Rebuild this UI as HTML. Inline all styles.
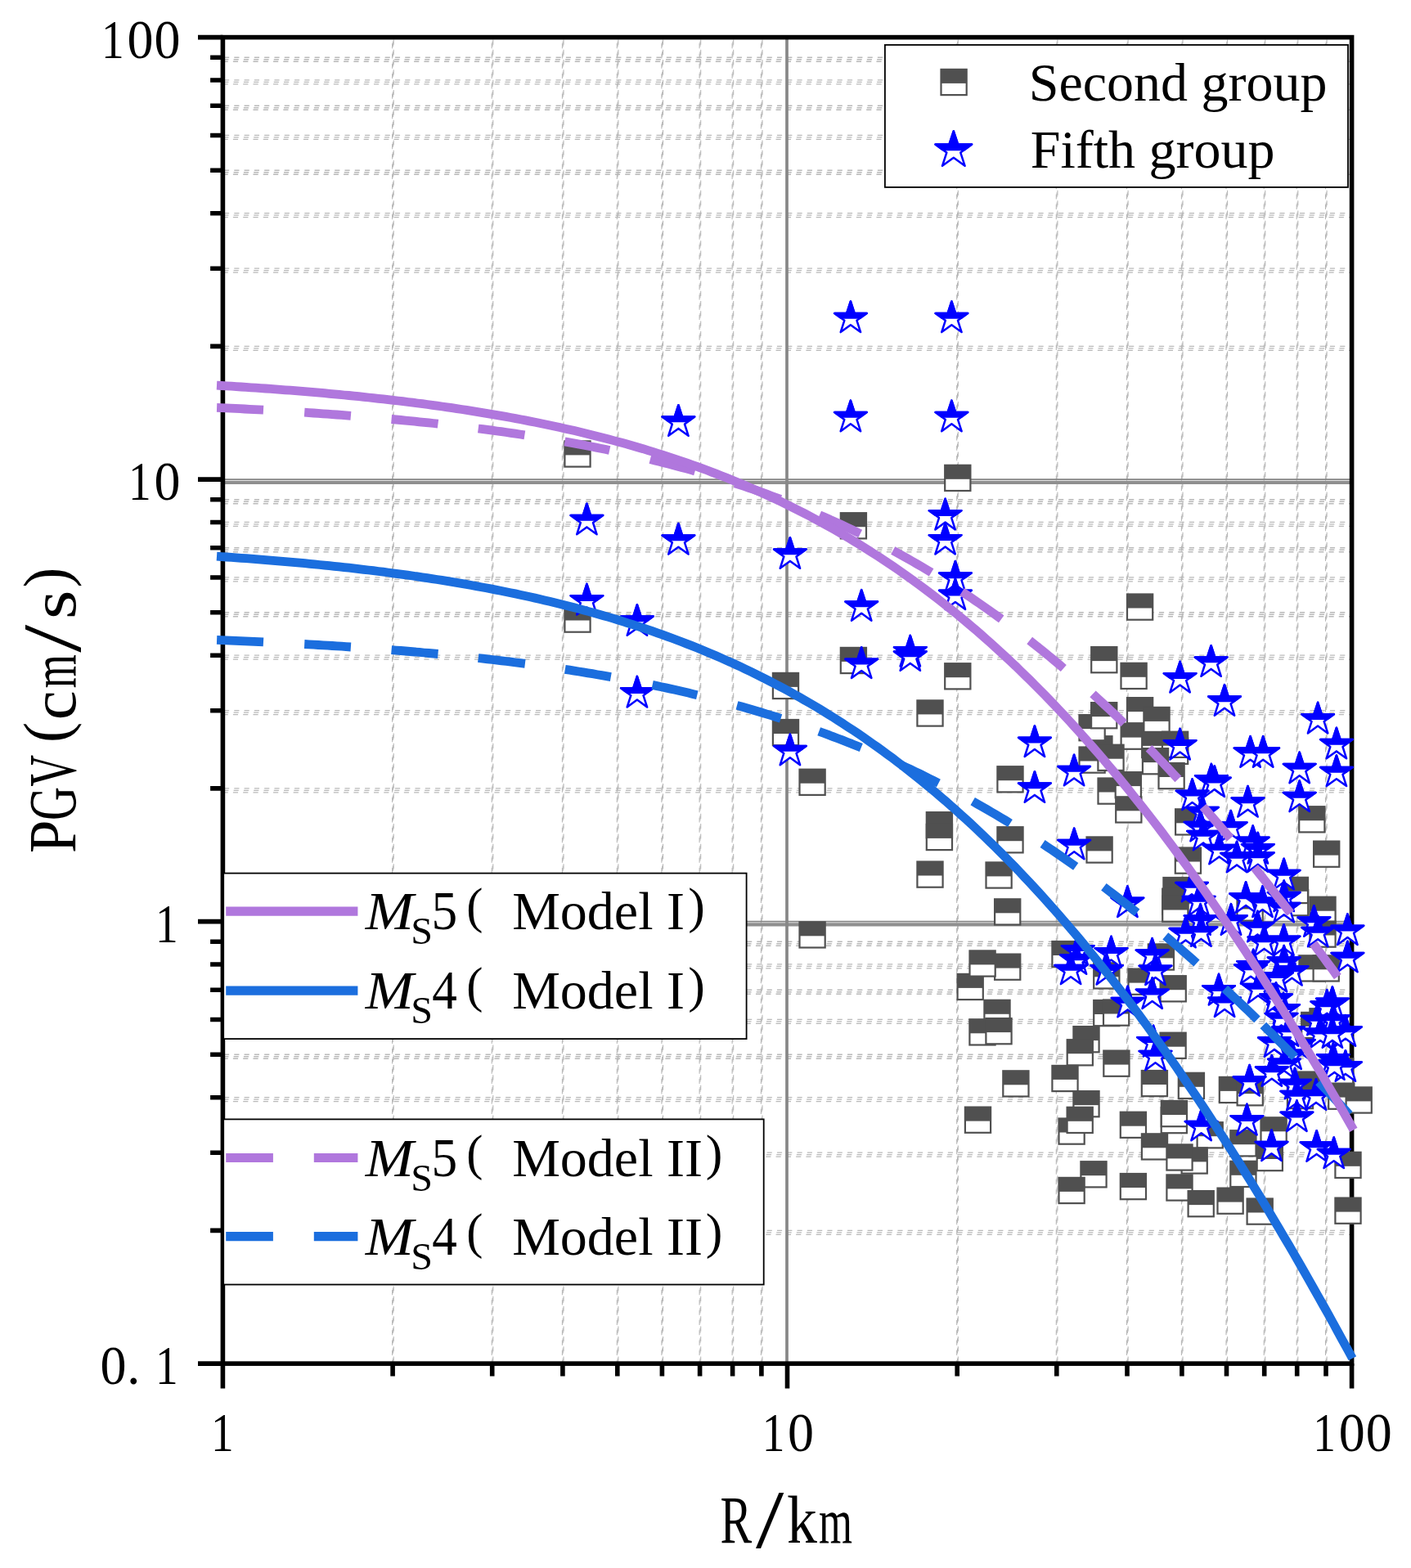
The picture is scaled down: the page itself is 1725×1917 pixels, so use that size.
<!DOCTYPE html>
<html lang="en"><head><meta charset="utf-8"><title>PGV attenuation versus distance</title>
<style>html,body{margin:0;padding:0;background:#fff}body{width:1725px;height:1917px;overflow:hidden}svg{display:block}text{font-family:"Liberation Serif",serif;fill:#000}</style>
</head><body>
<svg width="1725" height="1917" viewBox="0 0 1725 1917">
<rect width="1725" height="1917" fill="#fff"/>
<path d="M272.4 1504.3H1652.6M272.4 1409.1H1652.6M272.4 1341.6H1652.6M272.4 1289.2H1652.6M272.4 1246.4H1652.6M272.4 1210.2H1652.6M272.4 1178.9H1652.6M272.4 1151.2H1652.6M272.4 963.8H1652.6M272.4 868.6H1652.6M272.4 801.1H1652.6M272.4 748.7H1652.6M272.4 705.9H1652.6M272.4 669.7H1652.6M272.4 638.4H1652.6M272.4 610.7H1652.6M272.4 423.3H1652.6M272.4 328.1H1652.6M272.4 260.6H1652.6M272.4 208.2H1652.6M272.4 165.4H1652.6M272.4 129.2H1652.6M272.4 97.9H1652.6M272.4 70.2H1652.6" fill="none" stroke="#b9b9b9" stroke-width="1.35" stroke-dasharray="6.15 6.14" stroke-dashoffset="-1.6"/>
<path d="M272.4 1506.8H1652.6M272.4 1411.6H1652.6M272.4 1344.1H1652.6M272.4 1291.7H1652.6M272.4 1248.9H1652.6M272.4 1212.7H1652.6M272.4 1181.4H1652.6M272.4 1153.7H1652.6M272.4 966.3H1652.6M272.4 871.1H1652.6M272.4 803.6H1652.6M272.4 751.2H1652.6M272.4 708.4H1652.6M272.4 672.2H1652.6M272.4 640.9H1652.6M272.4 613.2H1652.6M272.4 425.8H1652.6M272.4 330.6H1652.6M272.4 263.1H1652.6M272.4 210.7H1652.6M272.4 167.9H1652.6M272.4 131.7H1652.6M272.4 100.4H1652.6M272.4 72.7H1652.6" fill="none" stroke="#b9b9b9" stroke-width="1.35" stroke-dasharray="6.15 6.14" stroke-dashoffset="-0.9"/>
<path d="M272.4 1509.3H1652.6M272.4 1414.1H1652.6M272.4 1346.6H1652.6M272.4 1294.2H1652.6M272.4 1251.4H1652.6M272.4 1215.2H1652.6M272.4 1183.9H1652.6M272.4 1156.2H1652.6M272.4 968.8H1652.6M272.4 873.6H1652.6M272.4 806.1H1652.6M272.4 753.7H1652.6M272.4 710.9H1652.6M272.4 674.7H1652.6M272.4 643.4H1652.6M272.4 615.7H1652.6M272.4 428.3H1652.6M272.4 333.1H1652.6M272.4 265.6H1652.6M272.4 213.2H1652.6M272.4 170.4H1652.6M272.4 134.2H1652.6M272.4 102.9H1652.6M272.4 75.2H1652.6" fill="none" stroke="#b9b9b9" stroke-width="1.35" stroke-dasharray="6.15 6.14" stroke-dashoffset="-0.2"/>
<path d="M481.2 45.6V1667.1M602.8 45.6V1667.1M689.0 45.6V1667.1M755.9 45.6V1667.1M810.5 45.6V1667.1M856.7 45.6V1667.1M896.7 45.6V1667.1M932.0 45.6V1667.1M1171.3 45.6V1667.1M1292.9 45.6V1667.1M1379.1 45.6V1667.1M1446.0 45.6V1667.1M1500.6 45.6V1667.1M1546.8 45.6V1667.1M1586.8 45.6V1667.1M1622.1 45.6V1667.1" fill="none" stroke="#b6b6b6" stroke-width="1.05" stroke-dasharray="6.15 6.14" stroke-dashoffset="-2.9"/>
<path d="M480.4 45.6V1667.1M602.0 45.6V1667.1M688.2 45.6V1667.1M755.1 45.6V1667.1M809.7 45.6V1667.1M855.9 45.6V1667.1M895.9 45.6V1667.1M931.2 45.6V1667.1M1170.5 45.6V1667.1M1292.1 45.6V1667.1M1378.3 45.6V1667.1M1445.2 45.6V1667.1M1499.8 45.6V1667.1M1546.0 45.6V1667.1M1586.0 45.6V1667.1M1621.3 45.6V1667.1" fill="none" stroke="#b6b6b6" stroke-width="1.05" stroke-dasharray="6.15 6.14" stroke-dashoffset="-5.2"/>
<path d="M479.6 45.6V1667.1M601.2 45.6V1667.1M687.4 45.6V1667.1M754.3 45.6V1667.1M808.9 45.6V1667.1M855.1 45.6V1667.1M895.1 45.6V1667.1M930.4 45.6V1667.1M1169.7 45.6V1667.1M1291.3 45.6V1667.1M1377.5 45.6V1667.1M1444.4 45.6V1667.1M1499.0 45.6V1667.1M1545.2 45.6V1667.1M1585.2 45.6V1667.1M1620.5 45.6V1667.1" fill="none" stroke="#b6b6b6" stroke-width="1.05" stroke-dasharray="6.15 6.14" stroke-dashoffset="-7.5"/>
<path d="M272.4 586.1H1652.6" fill="none" stroke="#858585" stroke-width="1.7"/>
<path d="M272.4 589.9H1652.6" fill="none" stroke="#8f8f8f" stroke-width="4.2"/>
<path d="M272.4 1126.6H1652.6" fill="none" stroke="#858585" stroke-width="1.7"/>
<path d="M272.4 1130.4H1652.6" fill="none" stroke="#8f8f8f" stroke-width="4.2"/>
<path d="M962.0 45.6V1667.1" fill="none" stroke="#878787" stroke-width="3.7"/>
<rect x="272.4" y="45.6" width="1380.2" height="1621.5" fill="none" stroke="#000" stroke-width="5.6"/>
<path d="M272.4 1667.1H242.0M272.4 1126.6H242.0M272.4 586.1H242.0M272.4 45.6H242.0M272.4 1667.1V1697.5M962.5 1667.1V1697.5M1652.6 1667.1V1697.5M272.4 1504.4H257.1M272.4 1409.2H257.1M272.4 1341.7H257.1M272.4 1289.3H257.1M272.4 1246.5H257.1M272.4 1210.3H257.1M272.4 1179.0H257.1M272.4 1151.3H257.1M272.4 963.9H257.1M272.4 868.7H257.1M272.4 801.2H257.1M272.4 748.8H257.1M272.4 706.0H257.1M272.4 669.8H257.1M272.4 638.5H257.1M272.4 610.8H257.1M272.4 423.4H257.1M272.4 328.2H257.1M272.4 260.7H257.1M272.4 208.3H257.1M272.4 165.5H257.1M272.4 129.3H257.1M272.4 98.0H257.1M272.4 70.3H257.1M480.1 1667.1V1682.4M601.7 1667.1V1682.4M687.9 1667.1V1682.4M754.8 1667.1V1682.4M809.4 1667.1V1682.4M855.6 1667.1V1682.4M895.6 1667.1V1682.4M930.9 1667.1V1682.4M1170.2 1667.1V1682.4M1291.8 1667.1V1682.4M1378.0 1667.1V1682.4M1444.9 1667.1V1682.4M1499.5 1667.1V1682.4M1545.7 1667.1V1682.4M1585.7 1667.1V1682.4M1621.0 1667.1V1682.4" fill="none" stroke="#000" stroke-width="5.6"/>
<g id="squares">
<rect x="690.4" y="539.4" width="31.2" height="31.2" fill="#fff" stroke="#505050" stroke-width="2.2"/><rect x="690.4" y="539.4" width="31.2" height="17" fill="#505050"/>
<rect x="1155.2" y="568.8" width="31.2" height="31.2" fill="#fff" stroke="#505050" stroke-width="2.2"/><rect x="1155.2" y="568.8" width="31.2" height="17" fill="#505050"/>
<rect x="1027.8" y="627.2" width="31.2" height="31.2" fill="#fff" stroke="#505050" stroke-width="2.2"/><rect x="1027.8" y="627.2" width="31.2" height="17" fill="#505050"/>
<rect x="690.4" y="741.5" width="31.2" height="31.2" fill="#fff" stroke="#505050" stroke-width="2.2"/><rect x="690.4" y="741.5" width="31.2" height="17" fill="#505050"/>
<rect x="1378.0" y="726.5" width="31.2" height="31.2" fill="#fff" stroke="#505050" stroke-width="2.2"/><rect x="1378.0" y="726.5" width="31.2" height="17" fill="#505050"/>
<rect x="1027.8" y="791.9" width="31.2" height="31.2" fill="#fff" stroke="#505050" stroke-width="2.2"/><rect x="1027.8" y="791.9" width="31.2" height="17" fill="#505050"/>
<rect x="1334.2" y="791.1" width="31.2" height="31.2" fill="#fff" stroke="#505050" stroke-width="2.2"/><rect x="1334.2" y="791.1" width="31.2" height="17" fill="#505050"/>
<rect x="1155.2" y="811.2" width="31.2" height="31.2" fill="#fff" stroke="#505050" stroke-width="2.2"/><rect x="1155.2" y="811.2" width="31.2" height="17" fill="#505050"/>
<rect x="1370.5" y="810.8" width="31.2" height="31.2" fill="#fff" stroke="#505050" stroke-width="2.2"/><rect x="1370.5" y="810.8" width="31.2" height="17" fill="#505050"/>
<rect x="944.9" y="822.9" width="31.2" height="31.2" fill="#fff" stroke="#505050" stroke-width="2.2"/><rect x="944.9" y="822.9" width="31.2" height="17" fill="#505050"/>
<rect x="1121.4" y="856.4" width="31.2" height="31.2" fill="#fff" stroke="#505050" stroke-width="2.2"/><rect x="1121.4" y="856.4" width="31.2" height="17" fill="#505050"/>
<rect x="944.9" y="880.0" width="31.2" height="31.2" fill="#fff" stroke="#505050" stroke-width="2.2"/><rect x="944.9" y="880.0" width="31.2" height="17" fill="#505050"/>
<rect x="977.5" y="940.7" width="31.2" height="31.2" fill="#fff" stroke="#505050" stroke-width="2.2"/><rect x="977.5" y="940.7" width="31.2" height="17" fill="#505050"/>
<rect x="1219.4" y="937.2" width="31.2" height="31.2" fill="#fff" stroke="#505050" stroke-width="2.2"/><rect x="1219.4" y="937.2" width="31.2" height="17" fill="#505050"/>
<rect x="1132.8" y="993.1" width="31.2" height="31.2" fill="#fff" stroke="#505050" stroke-width="2.2"/><rect x="1132.8" y="993.1" width="31.2" height="17" fill="#505050"/>
<rect x="1132.8" y="1007.9" width="31.2" height="31.2" fill="#fff" stroke="#505050" stroke-width="2.2"/><rect x="1132.8" y="1007.9" width="31.2" height="17" fill="#505050"/>
<rect x="1219.4" y="1011.2" width="31.2" height="31.2" fill="#fff" stroke="#505050" stroke-width="2.2"/><rect x="1219.4" y="1011.2" width="31.2" height="17" fill="#505050"/>
<rect x="1121.4" y="1053.5" width="31.2" height="31.2" fill="#fff" stroke="#505050" stroke-width="2.2"/><rect x="1121.4" y="1053.5" width="31.2" height="17" fill="#505050"/>
<rect x="1205.5" y="1054.4" width="31.2" height="31.2" fill="#fff" stroke="#505050" stroke-width="2.2"/><rect x="1205.5" y="1054.4" width="31.2" height="17" fill="#505050"/>
<rect x="1216.1" y="1099.3" width="31.2" height="31.2" fill="#fff" stroke="#505050" stroke-width="2.2"/><rect x="1216.1" y="1099.3" width="31.2" height="17" fill="#505050"/>
<rect x="977.5" y="1127.3" width="31.2" height="31.2" fill="#fff" stroke="#505050" stroke-width="2.2"/><rect x="977.5" y="1127.3" width="31.2" height="17" fill="#505050"/>
<rect x="1170.6" y="1190.9" width="31.2" height="31.2" fill="#fff" stroke="#505050" stroke-width="2.2"/><rect x="1170.6" y="1190.9" width="31.2" height="17" fill="#505050"/>
<rect x="1216.1" y="1166.6" width="31.2" height="31.2" fill="#fff" stroke="#505050" stroke-width="2.2"/><rect x="1216.1" y="1166.6" width="31.2" height="17" fill="#505050"/>
<rect x="1185.5" y="1162.4" width="31.2" height="31.2" fill="#fff" stroke="#505050" stroke-width="2.2"/><rect x="1185.5" y="1162.4" width="31.2" height="17" fill="#505050"/>
<rect x="1328.5" y="1023.4" width="31.2" height="31.2" fill="#fff" stroke="#505050" stroke-width="2.2"/><rect x="1328.5" y="1023.4" width="31.2" height="17" fill="#505050"/>
<rect x="1328.3" y="900.2" width="31.2" height="31.2" fill="#fff" stroke="#505050" stroke-width="2.2"/><rect x="1328.3" y="900.2" width="31.2" height="17" fill="#505050"/>
<rect x="1319.5" y="874.1" width="31.2" height="31.2" fill="#fff" stroke="#505050" stroke-width="2.2"/><rect x="1319.5" y="874.1" width="31.2" height="17" fill="#505050"/>
<rect x="1334.1" y="859.1" width="31.2" height="31.2" fill="#fff" stroke="#505050" stroke-width="2.2"/><rect x="1334.1" y="859.1" width="31.2" height="17" fill="#505050"/>
<rect x="1378.0" y="853.1" width="31.2" height="31.2" fill="#fff" stroke="#505050" stroke-width="2.2"/><rect x="1378.0" y="853.1" width="31.2" height="17" fill="#505050"/>
<rect x="1370.6" y="884.6" width="31.2" height="31.2" fill="#fff" stroke="#505050" stroke-width="2.2"/><rect x="1370.6" y="884.6" width="31.2" height="17" fill="#505050"/>
<rect x="1398.4" y="864.9" width="31.2" height="31.2" fill="#fff" stroke="#505050" stroke-width="2.2"/><rect x="1398.4" y="864.9" width="31.2" height="17" fill="#505050"/>
<rect x="1396.2" y="894.9" width="31.2" height="31.2" fill="#fff" stroke="#505050" stroke-width="2.2"/><rect x="1396.2" y="894.9" width="31.2" height="17" fill="#505050"/>
<rect x="1421.0" y="902.7" width="31.2" height="31.2" fill="#fff" stroke="#505050" stroke-width="2.2"/><rect x="1421.0" y="902.7" width="31.2" height="17" fill="#505050"/>
<rect x="1421.0" y="894.7" width="31.2" height="31.2" fill="#fff" stroke="#505050" stroke-width="2.2"/><rect x="1421.0" y="894.7" width="31.2" height="17" fill="#505050"/>
<rect x="1319.5" y="913.5" width="31.2" height="31.2" fill="#fff" stroke="#505050" stroke-width="2.2"/><rect x="1319.5" y="913.5" width="31.2" height="17" fill="#505050"/>
<rect x="1342.4" y="910.7" width="31.2" height="31.2" fill="#fff" stroke="#505050" stroke-width="2.2"/><rect x="1342.4" y="910.7" width="31.2" height="17" fill="#505050"/>
<rect x="1396.9" y="915.1" width="31.2" height="31.2" fill="#fff" stroke="#505050" stroke-width="2.2"/><rect x="1396.9" y="915.1" width="31.2" height="17" fill="#505050"/>
<rect x="1416.5" y="933.0" width="31.2" height="31.2" fill="#fff" stroke="#505050" stroke-width="2.2"/><rect x="1416.5" y="933.0" width="31.2" height="17" fill="#505050"/>
<rect x="1342.5" y="951.5" width="31.2" height="31.2" fill="#fff" stroke="#505050" stroke-width="2.2"/><rect x="1342.5" y="951.5" width="31.2" height="17" fill="#505050"/>
<rect x="1363.7" y="944.1" width="31.2" height="31.2" fill="#fff" stroke="#505050" stroke-width="2.2"/><rect x="1363.7" y="944.1" width="31.2" height="17" fill="#505050"/>
<rect x="1364.2" y="974.3" width="31.2" height="31.2" fill="#fff" stroke="#505050" stroke-width="2.2"/><rect x="1364.2" y="974.3" width="31.2" height="17" fill="#505050"/>
<rect x="1437.1" y="989.3" width="31.2" height="31.2" fill="#fff" stroke="#505050" stroke-width="2.2"/><rect x="1437.1" y="989.3" width="31.2" height="17" fill="#505050"/>
<rect x="1588.2" y="986.2" width="31.2" height="31.2" fill="#fff" stroke="#505050" stroke-width="2.2"/><rect x="1588.2" y="986.2" width="31.2" height="17" fill="#505050"/>
<rect x="1606.1" y="1028.6" width="31.2" height="31.2" fill="#fff" stroke="#505050" stroke-width="2.2"/><rect x="1606.1" y="1028.6" width="31.2" height="17" fill="#505050"/>
<rect x="1436.8" y="1036.5" width="31.2" height="31.2" fill="#fff" stroke="#505050" stroke-width="2.2"/><rect x="1436.8" y="1036.5" width="31.2" height="17" fill="#505050"/>
<rect x="1568.0" y="1088.1" width="31.2" height="31.2" fill="#fff" stroke="#505050" stroke-width="2.2"/><rect x="1568.0" y="1088.1" width="31.2" height="17" fill="#505050"/>
<rect x="1567.8" y="1072.8" width="31.2" height="31.2" fill="#fff" stroke="#505050" stroke-width="2.2"/><rect x="1567.8" y="1072.8" width="31.2" height="17" fill="#505050"/>
<rect x="1601.4" y="1096.7" width="31.2" height="31.2" fill="#fff" stroke="#505050" stroke-width="2.2"/><rect x="1601.4" y="1096.7" width="31.2" height="17" fill="#505050"/>
<rect x="1601.4" y="1126.5" width="31.2" height="31.2" fill="#fff" stroke="#505050" stroke-width="2.2"/><rect x="1601.4" y="1126.5" width="31.2" height="17" fill="#505050"/>
<rect x="1422.4" y="1073.0" width="31.2" height="31.2" fill="#fff" stroke="#505050" stroke-width="2.2"/><rect x="1422.4" y="1073.0" width="31.2" height="17" fill="#505050"/>
<rect x="1421.2" y="1086.6" width="31.2" height="31.2" fill="#fff" stroke="#505050" stroke-width="2.2"/><rect x="1421.2" y="1086.6" width="31.2" height="17" fill="#505050"/>
<rect x="1421.2" y="1095.5" width="31.2" height="31.2" fill="#fff" stroke="#505050" stroke-width="2.2"/><rect x="1421.2" y="1095.5" width="31.2" height="17" fill="#505050"/>
<rect x="1512.5" y="1094.4" width="31.2" height="31.2" fill="#fff" stroke="#505050" stroke-width="2.2"/><rect x="1512.5" y="1094.4" width="31.2" height="17" fill="#505050"/>
<rect x="1588.4" y="1168.3" width="31.2" height="31.2" fill="#fff" stroke="#505050" stroke-width="2.2"/><rect x="1588.4" y="1168.3" width="31.2" height="17" fill="#505050"/>
<rect x="1605.6" y="1168.3" width="31.2" height="31.2" fill="#fff" stroke="#505050" stroke-width="2.2"/><rect x="1605.6" y="1168.3" width="31.2" height="17" fill="#505050"/>
<rect x="1286.4" y="1151.0" width="31.2" height="31.2" fill="#fff" stroke="#505050" stroke-width="2.2"/><rect x="1286.4" y="1151.0" width="31.2" height="17" fill="#505050"/>
<rect x="1403.8" y="1154.4" width="31.2" height="31.2" fill="#fff" stroke="#505050" stroke-width="2.2"/><rect x="1403.8" y="1154.4" width="31.2" height="17" fill="#505050"/>
<rect x="1337.2" y="1177.3" width="31.2" height="31.2" fill="#fff" stroke="#505050" stroke-width="2.2"/><rect x="1337.2" y="1177.3" width="31.2" height="17" fill="#505050"/>
<rect x="1379.5" y="1184.6" width="31.2" height="31.2" fill="#fff" stroke="#505050" stroke-width="2.2"/><rect x="1379.5" y="1184.6" width="31.2" height="17" fill="#505050"/>
<rect x="1418.6" y="1193.2" width="31.2" height="31.2" fill="#fff" stroke="#505050" stroke-width="2.2"/><rect x="1418.6" y="1193.2" width="31.2" height="17" fill="#505050"/>
<rect x="1337.2" y="1223.0" width="31.2" height="31.2" fill="#fff" stroke="#505050" stroke-width="2.2"/><rect x="1337.2" y="1223.0" width="31.2" height="17" fill="#505050"/>
<rect x="1349.0" y="1222.5" width="31.2" height="31.2" fill="#fff" stroke="#505050" stroke-width="2.2"/><rect x="1349.0" y="1222.5" width="31.2" height="17" fill="#505050"/>
<rect x="1203.4" y="1222.8" width="31.2" height="31.2" fill="#fff" stroke="#505050" stroke-width="2.2"/><rect x="1203.4" y="1222.8" width="31.2" height="17" fill="#505050"/>
<rect x="1185.4" y="1246.3" width="31.2" height="31.2" fill="#fff" stroke="#505050" stroke-width="2.2"/><rect x="1185.4" y="1246.3" width="31.2" height="17" fill="#505050"/>
<rect x="1205.4" y="1245.1" width="31.2" height="31.2" fill="#fff" stroke="#505050" stroke-width="2.2"/><rect x="1205.4" y="1245.1" width="31.2" height="17" fill="#505050"/>
<rect x="1591.2" y="1237.9" width="31.2" height="31.2" fill="#fff" stroke="#505050" stroke-width="2.2"/><rect x="1591.2" y="1237.9" width="31.2" height="17" fill="#505050"/>
<rect x="1601.4" y="1233.2" width="31.2" height="31.2" fill="#fff" stroke="#505050" stroke-width="2.2"/><rect x="1601.4" y="1233.2" width="31.2" height="17" fill="#505050"/>
<rect x="1312.4" y="1255.1" width="31.2" height="31.2" fill="#fff" stroke="#505050" stroke-width="2.2"/><rect x="1312.4" y="1255.1" width="31.2" height="17" fill="#505050"/>
<rect x="1304.7" y="1271.2" width="31.2" height="31.2" fill="#fff" stroke="#505050" stroke-width="2.2"/><rect x="1304.7" y="1271.2" width="31.2" height="17" fill="#505050"/>
<rect x="1418.5" y="1262.7" width="31.2" height="31.2" fill="#fff" stroke="#505050" stroke-width="2.2"/><rect x="1418.5" y="1262.7" width="31.2" height="17" fill="#505050"/>
<rect x="1349.3" y="1284.6" width="31.2" height="31.2" fill="#fff" stroke="#505050" stroke-width="2.2"/><rect x="1349.3" y="1284.6" width="31.2" height="17" fill="#505050"/>
<rect x="1623.0" y="1294.3" width="31.2" height="31.2" fill="#fff" stroke="#505050" stroke-width="2.2"/><rect x="1623.0" y="1294.3" width="31.2" height="17" fill="#505050"/>
<rect x="1286.4" y="1302.9" width="31.2" height="31.2" fill="#fff" stroke="#505050" stroke-width="2.2"/><rect x="1286.4" y="1302.9" width="31.2" height="17" fill="#505050"/>
<rect x="1395.8" y="1309.0" width="31.2" height="31.2" fill="#fff" stroke="#505050" stroke-width="2.2"/><rect x="1395.8" y="1309.0" width="31.2" height="17" fill="#505050"/>
<rect x="1226.3" y="1309.3" width="31.2" height="31.2" fill="#fff" stroke="#505050" stroke-width="2.2"/><rect x="1226.3" y="1309.3" width="31.2" height="17" fill="#505050"/>
<rect x="1440.8" y="1311.8" width="31.2" height="31.2" fill="#fff" stroke="#505050" stroke-width="2.2"/><rect x="1440.8" y="1311.8" width="31.2" height="17" fill="#505050"/>
<rect x="1587.2" y="1310.5" width="31.2" height="31.2" fill="#fff" stroke="#505050" stroke-width="2.2"/><rect x="1587.2" y="1310.5" width="31.2" height="17" fill="#505050"/>
<rect x="1573.9" y="1324.0" width="31.2" height="31.2" fill="#fff" stroke="#505050" stroke-width="2.2"/><rect x="1573.9" y="1324.0" width="31.2" height="17" fill="#505050"/>
<rect x="1490.8" y="1316.9" width="31.2" height="31.2" fill="#fff" stroke="#505050" stroke-width="2.2"/><rect x="1490.8" y="1316.9" width="31.2" height="17" fill="#505050"/>
<rect x="1512.6" y="1320.2" width="31.2" height="31.2" fill="#fff" stroke="#505050" stroke-width="2.2"/><rect x="1512.6" y="1320.2" width="31.2" height="17" fill="#505050"/>
<rect x="1624.2" y="1324.6" width="31.2" height="31.2" fill="#fff" stroke="#505050" stroke-width="2.2"/><rect x="1624.2" y="1324.6" width="31.2" height="17" fill="#505050"/>
<rect x="1645.6" y="1329.4" width="31.2" height="31.2" fill="#fff" stroke="#505050" stroke-width="2.2"/><rect x="1645.6" y="1329.4" width="31.2" height="17" fill="#505050"/>
<rect x="1312.4" y="1334.1" width="31.2" height="31.2" fill="#fff" stroke="#505050" stroke-width="2.2"/><rect x="1312.4" y="1334.1" width="31.2" height="17" fill="#505050"/>
<rect x="1294.5" y="1367.5" width="31.2" height="31.2" fill="#fff" stroke="#505050" stroke-width="2.2"/><rect x="1294.5" y="1367.5" width="31.2" height="17" fill="#505050"/>
<rect x="1304.6" y="1353.8" width="31.2" height="31.2" fill="#fff" stroke="#505050" stroke-width="2.2"/><rect x="1304.6" y="1353.8" width="31.2" height="17" fill="#505050"/>
<rect x="1179.9" y="1353.6" width="31.2" height="31.2" fill="#fff" stroke="#505050" stroke-width="2.2"/><rect x="1179.9" y="1353.6" width="31.2" height="17" fill="#505050"/>
<rect x="1369.8" y="1359.7" width="31.2" height="31.2" fill="#fff" stroke="#505050" stroke-width="2.2"/><rect x="1369.8" y="1359.7" width="31.2" height="17" fill="#505050"/>
<rect x="1419.7" y="1354.0" width="31.2" height="31.2" fill="#fff" stroke="#505050" stroke-width="2.2"/><rect x="1419.7" y="1354.0" width="31.2" height="17" fill="#505050"/>
<rect x="1419.8" y="1346.0" width="31.2" height="31.2" fill="#fff" stroke="#505050" stroke-width="2.2"/><rect x="1419.8" y="1346.0" width="31.2" height="17" fill="#505050"/>
<rect x="1541.5" y="1366.3" width="31.2" height="31.2" fill="#fff" stroke="#505050" stroke-width="2.2"/><rect x="1541.5" y="1366.3" width="31.2" height="17" fill="#505050"/>
<rect x="1463.6" y="1372.2" width="31.2" height="31.2" fill="#fff" stroke="#505050" stroke-width="2.2"/><rect x="1463.6" y="1372.2" width="31.2" height="17" fill="#505050"/>
<rect x="1504.3" y="1382.2" width="31.2" height="31.2" fill="#fff" stroke="#505050" stroke-width="2.2"/><rect x="1504.3" y="1382.2" width="31.2" height="17" fill="#505050"/>
<rect x="1395.9" y="1386.3" width="31.2" height="31.2" fill="#fff" stroke="#505050" stroke-width="2.2"/><rect x="1395.9" y="1386.3" width="31.2" height="17" fill="#505050"/>
<rect x="1444.6" y="1403.4" width="31.2" height="31.2" fill="#fff" stroke="#505050" stroke-width="2.2"/><rect x="1444.6" y="1403.4" width="31.2" height="17" fill="#505050"/>
<rect x="1426.4" y="1399.4" width="31.2" height="31.2" fill="#fff" stroke="#505050" stroke-width="2.2"/><rect x="1426.4" y="1399.4" width="31.2" height="17" fill="#505050"/>
<rect x="1536.7" y="1400.0" width="31.2" height="31.2" fill="#fff" stroke="#505050" stroke-width="2.2"/><rect x="1536.7" y="1400.0" width="31.2" height="17" fill="#505050"/>
<rect x="1632.4" y="1408.8" width="31.2" height="31.2" fill="#fff" stroke="#505050" stroke-width="2.2"/><rect x="1632.4" y="1408.8" width="31.2" height="17" fill="#505050"/>
<rect x="1504.3" y="1419.8" width="31.2" height="31.2" fill="#fff" stroke="#505050" stroke-width="2.2"/><rect x="1504.3" y="1419.8" width="31.2" height="17" fill="#505050"/>
<rect x="1321.4" y="1420.2" width="31.2" height="31.2" fill="#fff" stroke="#505050" stroke-width="2.2"/><rect x="1321.4" y="1420.2" width="31.2" height="17" fill="#505050"/>
<rect x="1294.5" y="1439.9" width="31.2" height="31.2" fill="#fff" stroke="#505050" stroke-width="2.2"/><rect x="1294.5" y="1439.9" width="31.2" height="17" fill="#505050"/>
<rect x="1369.8" y="1435.0" width="31.2" height="31.2" fill="#fff" stroke="#505050" stroke-width="2.2"/><rect x="1369.8" y="1435.0" width="31.2" height="17" fill="#505050"/>
<rect x="1426.4" y="1436.4" width="31.2" height="31.2" fill="#fff" stroke="#505050" stroke-width="2.2"/><rect x="1426.4" y="1436.4" width="31.2" height="17" fill="#505050"/>
<rect x="1452.6" y="1456.1" width="31.2" height="31.2" fill="#fff" stroke="#505050" stroke-width="2.2"/><rect x="1452.6" y="1456.1" width="31.2" height="17" fill="#505050"/>
<rect x="1488.5" y="1452.6" width="31.2" height="31.2" fill="#fff" stroke="#505050" stroke-width="2.2"/><rect x="1488.5" y="1452.6" width="31.2" height="17" fill="#505050"/>
<rect x="1524.6" y="1465.5" width="31.2" height="31.2" fill="#fff" stroke="#505050" stroke-width="2.2"/><rect x="1524.6" y="1465.5" width="31.2" height="17" fill="#505050"/>
<rect x="1632.4" y="1464.6" width="31.2" height="31.2" fill="#fff" stroke="#505050" stroke-width="2.2"/><rect x="1632.4" y="1464.6" width="31.2" height="17" fill="#505050"/>
</g>
<g id="stars">
<path d="M1039.9 368.5L1044.6 382.9L1059.7 382.9L1047.5 391.8L1052.1 406.1L1039.9 397.2L1027.7 406.1L1032.3 391.8L1020.1 382.9L1035.2 382.9Z" fill="#fff" stroke="#00f" stroke-width="2.5" stroke-linejoin="round"/><path d="M1039.9 368.5L1044.6 382.9L1059.7 382.9L1052.1 388.4L1027.7 388.4L1020.1 382.9L1035.2 382.9Z" fill="#00f" stroke="#00f" stroke-width="2.5" stroke-linejoin="round"/>
<path d="M1163.4 368.5L1168.1 382.9L1183.2 382.9L1171.0 391.8L1175.6 406.1L1163.4 397.2L1151.2 406.1L1155.8 391.8L1143.6 382.9L1158.7 382.9Z" fill="#fff" stroke="#00f" stroke-width="2.5" stroke-linejoin="round"/><path d="M1163.4 368.5L1168.1 382.9L1183.2 382.9L1175.6 388.4L1151.2 388.4L1143.6 382.9L1158.7 382.9Z" fill="#00f" stroke="#00f" stroke-width="2.5" stroke-linejoin="round"/>
<path d="M1039.9 489.6L1044.6 504.0L1059.7 504.0L1047.5 512.9L1052.1 527.2L1039.9 518.3L1027.7 527.2L1032.3 512.9L1020.1 504.0L1035.2 504.0Z" fill="#fff" stroke="#00f" stroke-width="2.5" stroke-linejoin="round"/><path d="M1039.9 489.6L1044.6 504.0L1059.7 504.0L1052.1 509.5L1027.7 509.5L1020.1 504.0L1035.2 504.0Z" fill="#00f" stroke="#00f" stroke-width="2.5" stroke-linejoin="round"/>
<path d="M1163.4 489.6L1168.1 504.0L1183.2 504.0L1171.0 512.9L1175.6 527.2L1163.4 518.3L1151.2 527.2L1155.8 512.9L1143.6 504.0L1158.7 504.0Z" fill="#fff" stroke="#00f" stroke-width="2.5" stroke-linejoin="round"/><path d="M1163.4 489.6L1168.1 504.0L1183.2 504.0L1175.6 509.5L1151.2 509.5L1143.6 504.0L1158.7 504.0Z" fill="#00f" stroke="#00f" stroke-width="2.5" stroke-linejoin="round"/>
<path d="M829.4 495.2L834.1 509.6L849.2 509.6L837.0 518.5L841.6 532.8L829.4 523.9L817.2 532.8L821.8 518.5L809.6 509.6L824.7 509.6Z" fill="#fff" stroke="#00f" stroke-width="2.5" stroke-linejoin="round"/><path d="M829.4 495.2L834.1 509.6L849.2 509.6L841.6 515.1L817.2 515.1L809.6 509.6L824.7 509.6Z" fill="#00f" stroke="#00f" stroke-width="2.5" stroke-linejoin="round"/>
<path d="M717.4 615.7L722.1 630.1L737.2 630.1L725.0 639.0L729.6 653.3L717.4 644.4L705.2 653.3L709.8 639.0L697.6 630.1L712.7 630.1Z" fill="#fff" stroke="#00f" stroke-width="2.5" stroke-linejoin="round"/><path d="M717.4 615.7L722.1 630.1L737.2 630.1L729.6 635.6L705.2 635.6L697.6 630.1L712.7 630.1Z" fill="#00f" stroke="#00f" stroke-width="2.5" stroke-linejoin="round"/>
<path d="M829.4 640.0L834.1 654.4L849.2 654.4L837.0 663.3L841.6 677.6L829.4 668.7L817.2 677.6L821.8 663.3L809.6 654.4L824.7 654.4Z" fill="#fff" stroke="#00f" stroke-width="2.5" stroke-linejoin="round"/><path d="M829.4 640.0L834.1 654.4L849.2 654.4L841.6 659.9L817.2 659.9L809.6 654.4L824.7 654.4Z" fill="#00f" stroke="#00f" stroke-width="2.5" stroke-linejoin="round"/>
<path d="M965.9 657.2L970.6 671.6L985.7 671.6L973.5 680.5L978.1 694.8L965.9 685.9L953.7 694.8L958.3 680.5L946.1 671.6L961.2 671.6Z" fill="#fff" stroke="#00f" stroke-width="2.5" stroke-linejoin="round"/><path d="M965.9 657.2L970.6 671.6L985.7 671.6L978.1 677.1L953.7 677.1L946.1 671.6L961.2 671.6Z" fill="#00f" stroke="#00f" stroke-width="2.5" stroke-linejoin="round"/>
<path d="M1155.6 609.8L1160.3 624.2L1175.4 624.2L1163.2 633.1L1167.8 647.4L1155.6 638.5L1143.4 647.4L1148.0 633.1L1135.8 624.2L1150.9 624.2Z" fill="#fff" stroke="#00f" stroke-width="2.5" stroke-linejoin="round"/><path d="M1155.6 609.8L1160.3 624.2L1175.4 624.2L1167.8 629.7L1143.4 629.7L1135.8 624.2L1150.9 624.2Z" fill="#00f" stroke="#00f" stroke-width="2.5" stroke-linejoin="round"/>
<path d="M1155.6 639.8L1160.3 654.2L1175.4 654.2L1163.2 663.1L1167.8 677.4L1155.6 668.5L1143.4 677.4L1148.0 663.1L1135.8 654.2L1150.9 654.2Z" fill="#fff" stroke="#00f" stroke-width="2.5" stroke-linejoin="round"/><path d="M1155.6 639.8L1160.3 654.2L1175.4 654.2L1167.8 659.7L1143.4 659.7L1135.8 654.2L1150.9 654.2Z" fill="#00f" stroke="#00f" stroke-width="2.5" stroke-linejoin="round"/>
<path d="M1167.9 686.0L1172.6 700.4L1187.7 700.4L1175.5 709.3L1180.1 723.6L1167.9 714.7L1155.7 723.6L1160.3 709.3L1148.1 700.4L1163.2 700.4Z" fill="#fff" stroke="#00f" stroke-width="2.5" stroke-linejoin="round"/><path d="M1167.9 686.0L1172.6 700.4L1187.7 700.4L1180.1 705.9L1155.7 705.9L1148.1 700.4L1163.2 700.4Z" fill="#00f" stroke="#00f" stroke-width="2.5" stroke-linejoin="round"/>
<path d="M1167.9 707.4L1172.6 721.8L1187.7 721.8L1175.5 730.7L1180.1 745.0L1167.9 736.1L1155.7 745.0L1160.3 730.7L1148.1 721.8L1163.2 721.8Z" fill="#fff" stroke="#00f" stroke-width="2.5" stroke-linejoin="round"/><path d="M1167.9 707.4L1172.6 721.8L1187.7 721.8L1180.1 727.3L1155.7 727.3L1148.1 721.8L1163.2 721.8Z" fill="#00f" stroke="#00f" stroke-width="2.5" stroke-linejoin="round"/>
<path d="M717.4 713.9L722.1 728.3L737.2 728.3L725.0 737.2L729.6 751.5L717.4 742.6L705.2 751.5L709.8 737.2L697.6 728.3L712.7 728.3Z" fill="#fff" stroke="#00f" stroke-width="2.5" stroke-linejoin="round"/><path d="M717.4 713.9L722.1 728.3L737.2 728.3L729.6 733.8L705.2 733.8L697.6 728.3L712.7 728.3Z" fill="#00f" stroke="#00f" stroke-width="2.5" stroke-linejoin="round"/>
<path d="M778.9 739.2L783.6 753.6L798.7 753.6L786.5 762.5L791.1 776.8L778.9 767.9L766.7 776.8L771.3 762.5L759.1 753.6L774.2 753.6Z" fill="#fff" stroke="#00f" stroke-width="2.5" stroke-linejoin="round"/><path d="M778.9 739.2L783.6 753.6L798.7 753.6L791.1 759.1L766.7 759.1L759.1 753.6L774.2 753.6Z" fill="#00f" stroke="#00f" stroke-width="2.5" stroke-linejoin="round"/>
<path d="M1053.2 721.1L1057.9 735.5L1073.0 735.5L1060.8 744.4L1065.4 758.7L1053.2 749.8L1041.0 758.7L1045.6 744.4L1033.4 735.5L1048.5 735.5Z" fill="#fff" stroke="#00f" stroke-width="2.5" stroke-linejoin="round"/><path d="M1053.2 721.1L1057.9 735.5L1073.0 735.5L1065.4 741.0L1041.0 741.0L1033.4 735.5L1048.5 735.5Z" fill="#00f" stroke="#00f" stroke-width="2.5" stroke-linejoin="round"/>
<path d="M778.9 826.9L783.6 841.3L798.7 841.3L786.5 850.2L791.1 864.5L778.9 855.6L766.7 864.5L771.3 850.2L759.1 841.3L774.2 841.3Z" fill="#fff" stroke="#00f" stroke-width="2.5" stroke-linejoin="round"/><path d="M778.9 826.9L783.6 841.3L798.7 841.3L791.1 846.8L766.7 846.8L759.1 841.3L774.2 841.3Z" fill="#00f" stroke="#00f" stroke-width="2.5" stroke-linejoin="round"/>
<path d="M1053.2 791.3L1057.9 805.7L1073.0 805.7L1060.8 814.6L1065.4 828.9L1053.2 820.0L1041.0 828.9L1045.6 814.6L1033.4 805.7L1048.5 805.7Z" fill="#fff" stroke="#00f" stroke-width="2.5" stroke-linejoin="round"/><path d="M1053.2 791.3L1057.9 805.7L1073.0 805.7L1065.4 811.2L1041.0 811.2L1033.4 805.7L1048.5 805.7Z" fill="#00f" stroke="#00f" stroke-width="2.5" stroke-linejoin="round"/>
<path d="M1112.8 776.9L1117.5 791.3L1132.6 791.3L1120.4 800.2L1125.0 814.5L1112.8 805.6L1100.6 814.5L1105.2 800.2L1093.0 791.3L1108.1 791.3Z" fill="#fff" stroke="#00f" stroke-width="2.5" stroke-linejoin="round"/><path d="M1112.8 776.9L1117.5 791.3L1132.6 791.3L1125.0 796.8L1100.6 796.8L1093.0 791.3L1108.1 791.3Z" fill="#00f" stroke="#00f" stroke-width="2.5" stroke-linejoin="round"/>
<path d="M1112.8 782.2L1117.5 796.6L1132.6 796.6L1120.4 805.5L1125.0 819.8L1112.8 810.9L1100.6 819.8L1105.2 805.5L1093.0 796.6L1108.1 796.6Z" fill="#fff" stroke="#00f" stroke-width="2.5" stroke-linejoin="round"/><path d="M1112.8 782.2L1117.5 796.6L1132.6 796.6L1125.0 802.1L1100.6 802.1L1093.0 796.6L1108.1 796.6Z" fill="#00f" stroke="#00f" stroke-width="2.5" stroke-linejoin="round"/>
<path d="M965.9 897.6L970.6 912.0L985.7 912.0L973.5 920.9L978.1 935.2L965.9 926.3L953.7 935.2L958.3 920.9L946.1 912.0L961.2 912.0Z" fill="#fff" stroke="#00f" stroke-width="2.5" stroke-linejoin="round"/><path d="M965.9 897.6L970.6 912.0L985.7 912.0L978.1 917.5L953.7 917.5L946.1 912.0L961.2 912.0Z" fill="#00f" stroke="#00f" stroke-width="2.5" stroke-linejoin="round"/>
<path d="M1264.9 887.4L1269.6 901.8L1284.7 901.8L1272.5 910.7L1277.1 925.0L1264.9 916.1L1252.7 925.0L1257.3 910.7L1245.1 901.8L1260.2 901.8Z" fill="#fff" stroke="#00f" stroke-width="2.5" stroke-linejoin="round"/><path d="M1264.9 887.4L1269.6 901.8L1284.7 901.8L1277.1 907.3L1252.7 907.3L1245.1 901.8L1260.2 901.8Z" fill="#00f" stroke="#00f" stroke-width="2.5" stroke-linejoin="round"/>
<path d="M1264.9 943.2L1269.6 957.6L1284.7 957.6L1272.5 966.5L1277.1 980.8L1264.9 971.9L1252.7 980.8L1257.3 966.5L1245.1 957.6L1260.2 957.6Z" fill="#fff" stroke="#00f" stroke-width="2.5" stroke-linejoin="round"/><path d="M1264.9 943.2L1269.6 957.6L1284.7 957.6L1277.1 963.1L1252.7 963.1L1245.1 957.6L1260.2 957.6Z" fill="#00f" stroke="#00f" stroke-width="2.5" stroke-linejoin="round"/>
<path d="M1313.1 922.7L1317.8 937.1L1332.9 937.1L1320.7 946.0L1325.3 960.3L1313.1 951.4L1300.9 960.3L1305.5 946.0L1293.3 937.1L1308.4 937.1Z" fill="#fff" stroke="#00f" stroke-width="2.5" stroke-linejoin="round"/><path d="M1313.1 922.7L1317.8 937.1L1332.9 937.1L1325.3 942.6L1300.9 942.6L1293.3 937.1L1308.4 937.1Z" fill="#00f" stroke="#00f" stroke-width="2.5" stroke-linejoin="round"/>
<path d="M1313.2 1012.6L1317.9 1027.0L1333.0 1027.0L1320.8 1035.9L1325.4 1050.2L1313.2 1041.3L1301.0 1050.2L1305.6 1035.9L1293.4 1027.0L1308.5 1027.0Z" fill="#fff" stroke="#00f" stroke-width="2.5" stroke-linejoin="round"/><path d="M1313.2 1012.6L1317.9 1027.0L1333.0 1027.0L1325.4 1032.5L1301.0 1032.5L1293.4 1027.0L1308.5 1027.0Z" fill="#00f" stroke="#00f" stroke-width="2.5" stroke-linejoin="round"/>
<path d="M1442.6 808.8L1447.3 823.2L1462.4 823.2L1450.2 832.1L1454.8 846.4L1442.6 837.5L1430.4 846.4L1435.0 832.1L1422.8 823.2L1437.9 823.2Z" fill="#fff" stroke="#00f" stroke-width="2.5" stroke-linejoin="round"/><path d="M1442.6 808.8L1447.3 823.2L1462.4 823.2L1454.8 828.7L1430.4 828.7L1422.8 823.2L1437.9 823.2Z" fill="#00f" stroke="#00f" stroke-width="2.5" stroke-linejoin="round"/>
<path d="M1480.6 789.2L1485.3 803.6L1500.4 803.6L1488.2 812.5L1492.8 826.8L1480.6 817.9L1468.4 826.8L1473.0 812.5L1460.8 803.6L1475.9 803.6Z" fill="#fff" stroke="#00f" stroke-width="2.5" stroke-linejoin="round"/><path d="M1480.6 789.2L1485.3 803.6L1500.4 803.6L1492.8 809.1L1468.4 809.1L1460.8 803.6L1475.9 803.6Z" fill="#00f" stroke="#00f" stroke-width="2.5" stroke-linejoin="round"/>
<path d="M1497.0 837.1L1501.7 851.5L1516.8 851.5L1504.6 860.4L1509.2 874.7L1497.0 865.8L1484.8 874.7L1489.4 860.4L1477.2 851.5L1492.3 851.5Z" fill="#fff" stroke="#00f" stroke-width="2.5" stroke-linejoin="round"/><path d="M1497.0 837.1L1501.7 851.5L1516.8 851.5L1509.2 857.0L1484.8 857.0L1477.2 851.5L1492.3 851.5Z" fill="#00f" stroke="#00f" stroke-width="2.5" stroke-linejoin="round"/>
<path d="M1442.6 890.9L1447.3 905.3L1462.4 905.3L1450.2 914.2L1454.8 928.5L1442.6 919.6L1430.4 928.5L1435.0 914.2L1422.8 905.3L1437.9 905.3Z" fill="#fff" stroke="#00f" stroke-width="2.5" stroke-linejoin="round"/><path d="M1442.6 890.9L1447.3 905.3L1462.4 905.3L1454.8 910.8L1430.4 910.8L1422.8 905.3L1437.9 905.3Z" fill="#00f" stroke="#00f" stroke-width="2.5" stroke-linejoin="round"/>
<path d="M1611.1 858.8L1615.8 873.2L1630.9 873.2L1618.7 882.1L1623.3 896.4L1611.1 887.5L1598.9 896.4L1603.5 882.1L1591.3 873.2L1606.4 873.2Z" fill="#fff" stroke="#00f" stroke-width="2.5" stroke-linejoin="round"/><path d="M1611.1 858.8L1615.8 873.2L1630.9 873.2L1623.3 878.7L1598.9 878.7L1591.3 873.2L1606.4 873.2Z" fill="#00f" stroke="#00f" stroke-width="2.5" stroke-linejoin="round"/>
<path d="M1633.9 889.7L1638.6 904.1L1653.7 904.1L1641.5 913.0L1646.1 927.3L1633.9 918.4L1621.7 927.3L1626.3 913.0L1614.1 904.1L1629.2 904.1Z" fill="#fff" stroke="#00f" stroke-width="2.5" stroke-linejoin="round"/><path d="M1633.9 889.7L1638.6 904.1L1653.7 904.1L1646.1 909.6L1621.7 909.6L1614.1 904.1L1629.2 904.1Z" fill="#00f" stroke="#00f" stroke-width="2.5" stroke-linejoin="round"/>
<path d="M1633.9 923.5L1638.6 937.9L1653.7 937.9L1641.5 946.8L1646.1 961.1L1633.9 952.2L1621.7 961.1L1626.3 946.8L1614.1 937.9L1629.2 937.9Z" fill="#fff" stroke="#00f" stroke-width="2.5" stroke-linejoin="round"/><path d="M1633.9 923.5L1638.6 937.9L1653.7 937.9L1646.1 943.4L1621.7 943.4L1614.1 937.9L1629.2 937.9Z" fill="#00f" stroke="#00f" stroke-width="2.5" stroke-linejoin="round"/>
<path d="M1528.6 900.1L1533.3 914.5L1548.4 914.5L1536.2 923.4L1540.8 937.7L1528.6 928.8L1516.4 937.7L1521.0 923.4L1508.8 914.5L1523.9 914.5Z" fill="#fff" stroke="#00f" stroke-width="2.5" stroke-linejoin="round"/><path d="M1528.6 900.1L1533.3 914.5L1548.4 914.5L1540.8 920.0L1516.4 920.0L1508.8 914.5L1523.9 914.5Z" fill="#00f" stroke="#00f" stroke-width="2.5" stroke-linejoin="round"/>
<path d="M1544.2 900.1L1548.9 914.5L1564.0 914.5L1551.8 923.4L1556.4 937.7L1544.2 928.8L1532.0 937.7L1536.6 923.4L1524.4 914.5L1539.5 914.5Z" fill="#fff" stroke="#00f" stroke-width="2.5" stroke-linejoin="round"/><path d="M1544.2 900.1L1548.9 914.5L1564.0 914.5L1556.4 920.0L1532.0 920.0L1524.4 914.5L1539.5 914.5Z" fill="#00f" stroke="#00f" stroke-width="2.5" stroke-linejoin="round"/>
<path d="M1588.7 919.6L1593.4 934.0L1608.5 934.0L1596.3 942.9L1600.9 957.2L1588.7 948.3L1576.5 957.2L1581.1 942.9L1568.9 934.0L1584.0 934.0Z" fill="#fff" stroke="#00f" stroke-width="2.5" stroke-linejoin="round"/><path d="M1588.7 919.6L1593.4 934.0L1608.5 934.0L1600.9 939.5L1576.5 939.5L1568.9 934.0L1584.0 934.0Z" fill="#00f" stroke="#00f" stroke-width="2.5" stroke-linejoin="round"/>
<path d="M1588.7 954.5L1593.4 968.9L1608.5 968.9L1596.3 977.8L1600.9 992.1L1588.7 983.2L1576.5 992.1L1581.1 977.8L1568.9 968.9L1584.0 968.9Z" fill="#fff" stroke="#00f" stroke-width="2.5" stroke-linejoin="round"/><path d="M1588.7 954.5L1593.4 968.9L1608.5 968.9L1600.9 974.4L1576.5 974.4L1568.9 968.9L1584.0 968.9Z" fill="#00f" stroke="#00f" stroke-width="2.5" stroke-linejoin="round"/>
<path d="M1480.9 933.9L1485.6 948.3L1500.7 948.3L1488.5 957.2L1493.1 971.5L1480.9 962.6L1468.7 971.5L1473.3 957.2L1461.1 948.3L1476.2 948.3Z" fill="#fff" stroke="#00f" stroke-width="2.5" stroke-linejoin="round"/><path d="M1480.9 933.9L1485.6 948.3L1500.7 948.3L1493.1 953.8L1468.7 953.8L1461.1 948.3L1476.2 948.3Z" fill="#00f" stroke="#00f" stroke-width="2.5" stroke-linejoin="round"/>
<path d="M1484.8 936.4L1489.5 950.8L1504.6 950.8L1492.4 959.7L1497.0 974.0L1484.8 965.1L1472.6 974.0L1477.2 959.7L1465.0 950.8L1480.1 950.8Z" fill="#fff" stroke="#00f" stroke-width="2.5" stroke-linejoin="round"/><path d="M1484.8 936.4L1489.5 950.8L1504.6 950.8L1497.0 956.3L1472.6 956.3L1465.0 950.8L1480.1 950.8Z" fill="#00f" stroke="#00f" stroke-width="2.5" stroke-linejoin="round"/>
<path d="M1457.6 952.4L1462.3 966.8L1477.4 966.8L1465.2 975.7L1469.8 990.0L1457.6 981.1L1445.4 990.0L1450.0 975.7L1437.8 966.8L1452.9 966.8Z" fill="#fff" stroke="#00f" stroke-width="2.5" stroke-linejoin="round"/><path d="M1457.6 952.4L1462.3 966.8L1477.4 966.8L1469.8 972.3L1445.4 972.3L1437.8 966.8L1452.9 966.8Z" fill="#00f" stroke="#00f" stroke-width="2.5" stroke-linejoin="round"/>
<path d="M1525.5 961.0L1530.2 975.4L1545.3 975.4L1533.1 984.3L1537.7 998.6L1525.5 989.7L1513.3 998.6L1517.9 984.3L1505.7 975.4L1520.8 975.4Z" fill="#fff" stroke="#00f" stroke-width="2.5" stroke-linejoin="round"/><path d="M1525.5 961.0L1530.2 975.4L1545.3 975.4L1537.7 980.9L1513.3 980.9L1505.7 975.4L1520.8 975.4Z" fill="#00f" stroke="#00f" stroke-width="2.5" stroke-linejoin="round"/>
<path d="M1470.0 972.5L1474.7 986.9L1489.8 986.9L1477.6 995.8L1482.2 1010.1L1470.0 1001.2L1457.8 1010.1L1462.4 995.8L1450.2 986.9L1465.3 986.9Z" fill="#fff" stroke="#00f" stroke-width="2.5" stroke-linejoin="round"/><path d="M1470.0 972.5L1474.7 986.9L1489.8 986.9L1482.2 992.4L1457.8 992.4L1450.2 986.9L1465.3 986.9Z" fill="#00f" stroke="#00f" stroke-width="2.5" stroke-linejoin="round"/>
<path d="M1467.6 990.7L1472.3 1005.1L1487.4 1005.1L1475.2 1014.0L1479.8 1028.3L1467.6 1019.4L1455.4 1028.3L1460.0 1014.0L1447.8 1005.1L1462.9 1005.1Z" fill="#fff" stroke="#00f" stroke-width="2.5" stroke-linejoin="round"/><path d="M1467.6 990.7L1472.3 1005.1L1487.4 1005.1L1479.8 1010.6L1455.4 1010.6L1447.8 1005.1L1462.9 1005.1Z" fill="#00f" stroke="#00f" stroke-width="2.5" stroke-linejoin="round"/>
<path d="M1504.7 991.0L1509.4 1005.4L1524.5 1005.4L1512.3 1014.3L1516.9 1028.6L1504.7 1019.7L1492.5 1028.6L1497.1 1014.3L1484.9 1005.4L1500.0 1005.4Z" fill="#fff" stroke="#00f" stroke-width="2.5" stroke-linejoin="round"/><path d="M1504.7 991.0L1509.4 1005.4L1524.5 1005.4L1516.9 1010.9L1492.5 1010.9L1484.9 1005.4L1500.0 1005.4Z" fill="#00f" stroke="#00f" stroke-width="2.5" stroke-linejoin="round"/>
<path d="M1471.1 1001.7L1475.8 1016.1L1490.9 1016.1L1478.7 1025.0L1483.3 1039.3L1471.1 1030.4L1458.9 1039.3L1463.5 1025.0L1451.3 1016.1L1466.4 1016.1Z" fill="#fff" stroke="#00f" stroke-width="2.5" stroke-linejoin="round"/><path d="M1471.1 1001.7L1475.8 1016.1L1490.9 1016.1L1483.3 1021.6L1458.9 1021.6L1451.3 1016.1L1466.4 1016.1Z" fill="#00f" stroke="#00f" stroke-width="2.5" stroke-linejoin="round"/>
<path d="M1531.7 1009.4L1536.4 1023.8L1551.5 1023.8L1539.3 1032.7L1543.9 1047.0L1531.7 1038.1L1519.5 1047.0L1524.1 1032.7L1511.9 1023.8L1527.0 1023.8Z" fill="#fff" stroke="#00f" stroke-width="2.5" stroke-linejoin="round"/><path d="M1531.7 1009.4L1536.4 1023.8L1551.5 1023.8L1543.9 1029.3L1519.5 1029.3L1511.9 1023.8L1527.0 1023.8Z" fill="#00f" stroke="#00f" stroke-width="2.5" stroke-linejoin="round"/>
<path d="M1537.8 1017.9L1542.5 1032.3L1557.6 1032.3L1545.4 1041.2L1550.0 1055.5L1537.8 1046.6L1525.6 1055.5L1530.2 1041.2L1518.0 1032.3L1533.1 1032.3Z" fill="#fff" stroke="#00f" stroke-width="2.5" stroke-linejoin="round"/><path d="M1537.8 1017.9L1542.5 1032.3L1557.6 1032.3L1550.0 1037.8L1525.6 1037.8L1518.0 1032.3L1533.1 1032.3Z" fill="#00f" stroke="#00f" stroke-width="2.5" stroke-linejoin="round"/>
<path d="M1490.5 1018.7L1495.2 1033.1L1510.3 1033.1L1498.1 1042.0L1502.7 1056.3L1490.5 1047.4L1478.3 1056.3L1482.9 1042.0L1470.7 1033.1L1485.8 1033.1Z" fill="#fff" stroke="#00f" stroke-width="2.5" stroke-linejoin="round"/><path d="M1490.5 1018.7L1495.2 1033.1L1510.3 1033.1L1502.7 1038.6L1478.3 1038.6L1470.7 1033.1L1485.8 1033.1Z" fill="#00f" stroke="#00f" stroke-width="2.5" stroke-linejoin="round"/>
<path d="M1512.1 1028.7L1516.8 1043.1L1531.9 1043.1L1519.7 1052.0L1524.3 1066.3L1512.1 1057.4L1499.9 1066.3L1504.5 1052.0L1492.3 1043.1L1507.4 1043.1Z" fill="#fff" stroke="#00f" stroke-width="2.5" stroke-linejoin="round"/><path d="M1512.1 1028.7L1516.8 1043.1L1531.9 1043.1L1524.3 1048.6L1499.9 1048.6L1492.3 1043.1L1507.4 1043.1Z" fill="#00f" stroke="#00f" stroke-width="2.5" stroke-linejoin="round"/>
<path d="M1537.8 1028.1L1542.5 1042.5L1557.6 1042.5L1545.4 1051.4L1550.0 1065.7L1537.8 1056.8L1525.6 1065.7L1530.2 1051.4L1518.0 1042.5L1533.1 1042.5Z" fill="#fff" stroke="#00f" stroke-width="2.5" stroke-linejoin="round"/><path d="M1537.8 1028.1L1542.5 1042.5L1557.6 1042.5L1550.0 1048.0L1525.6 1048.0L1518.0 1042.5L1533.1 1042.5Z" fill="#00f" stroke="#00f" stroke-width="2.5" stroke-linejoin="round"/>
<path d="M1569.6 1049.7L1574.3 1064.1L1589.4 1064.1L1577.2 1073.0L1581.8 1087.3L1569.6 1078.4L1557.4 1087.3L1562.0 1073.0L1549.8 1064.1L1564.9 1064.1Z" fill="#fff" stroke="#00f" stroke-width="2.5" stroke-linejoin="round"/><path d="M1569.6 1049.7L1574.3 1064.1L1589.4 1064.1L1581.8 1069.6L1557.4 1069.6L1549.8 1064.1L1564.9 1064.1Z" fill="#00f" stroke="#00f" stroke-width="2.5" stroke-linejoin="round"/>
<path d="M1457.0 1064.6L1461.7 1079.0L1476.8 1079.0L1464.6 1087.9L1469.2 1102.2L1457.0 1093.3L1444.8 1102.2L1449.4 1087.9L1437.2 1079.0L1452.3 1079.0Z" fill="#fff" stroke="#00f" stroke-width="2.5" stroke-linejoin="round"/><path d="M1457.0 1064.6L1461.7 1079.0L1476.8 1079.0L1469.2 1084.5L1444.8 1084.5L1437.2 1079.0L1452.3 1079.0Z" fill="#00f" stroke="#00f" stroke-width="2.5" stroke-linejoin="round"/>
<path d="M1569.7 1076.5L1574.4 1090.9L1589.5 1090.9L1577.3 1099.8L1581.9 1114.1L1569.7 1105.2L1557.5 1114.1L1562.1 1099.8L1549.9 1090.9L1565.0 1090.9Z" fill="#fff" stroke="#00f" stroke-width="2.5" stroke-linejoin="round"/><path d="M1569.7 1076.5L1574.4 1090.9L1589.5 1090.9L1581.9 1096.4L1557.5 1096.4L1549.9 1090.9L1565.0 1090.9Z" fill="#00f" stroke="#00f" stroke-width="2.5" stroke-linejoin="round"/>
<path d="M1523.1 1078.2L1527.8 1092.6L1542.9 1092.6L1530.7 1101.5L1535.3 1115.8L1523.1 1106.9L1510.9 1115.8L1515.5 1101.5L1503.3 1092.6L1518.4 1092.6Z" fill="#fff" stroke="#00f" stroke-width="2.5" stroke-linejoin="round"/><path d="M1523.1 1078.2L1527.8 1092.6L1542.9 1092.6L1535.3 1098.1L1510.9 1098.1L1503.3 1092.6L1518.4 1092.6Z" fill="#00f" stroke="#00f" stroke-width="2.5" stroke-linejoin="round"/>
<path d="M1543.5 1083.4L1548.2 1097.8L1563.3 1097.8L1551.1 1106.7L1555.7 1121.0L1543.5 1112.1L1531.3 1121.0L1535.9 1106.7L1523.7 1097.8L1538.8 1097.8Z" fill="#fff" stroke="#00f" stroke-width="2.5" stroke-linejoin="round"/><path d="M1543.5 1083.4L1548.2 1097.8L1563.3 1097.8L1555.7 1103.3L1531.3 1103.3L1523.7 1097.8L1538.8 1097.8Z" fill="#00f" stroke="#00f" stroke-width="2.5" stroke-linejoin="round"/>
<path d="M1465.6 1081.6L1470.3 1096.0L1485.4 1096.0L1473.2 1104.9L1477.8 1119.2L1465.6 1110.3L1453.4 1119.2L1458.0 1104.9L1445.8 1096.0L1460.9 1096.0Z" fill="#fff" stroke="#00f" stroke-width="2.5" stroke-linejoin="round"/><path d="M1465.6 1081.6L1470.3 1096.0L1485.4 1096.0L1477.8 1101.5L1453.4 1101.5L1445.8 1096.0L1460.9 1096.0Z" fill="#00f" stroke="#00f" stroke-width="2.5" stroke-linejoin="round"/>
<path d="M1569.7 1089.6L1574.4 1104.0L1589.5 1104.0L1577.3 1112.9L1581.9 1127.2L1569.7 1118.3L1557.5 1127.2L1562.1 1112.9L1549.9 1104.0L1565.0 1104.0Z" fill="#fff" stroke="#00f" stroke-width="2.5" stroke-linejoin="round"/><path d="M1569.7 1089.6L1574.4 1104.0L1589.5 1104.0L1581.9 1109.5L1557.5 1109.5L1549.9 1104.0L1565.0 1104.0Z" fill="#00f" stroke="#00f" stroke-width="2.5" stroke-linejoin="round"/>
<path d="M1378.4 1083.4L1383.1 1097.8L1398.2 1097.8L1386.0 1106.7L1390.6 1121.0L1378.4 1112.1L1366.2 1121.0L1370.8 1106.7L1358.6 1097.8L1373.7 1097.8Z" fill="#fff" stroke="#00f" stroke-width="2.5" stroke-linejoin="round"/><path d="M1378.4 1083.4L1383.1 1097.8L1398.2 1097.8L1390.6 1103.3L1366.2 1103.3L1358.6 1097.8L1373.7 1097.8Z" fill="#00f" stroke="#00f" stroke-width="2.5" stroke-linejoin="round"/>
<path d="M1467.6 1105.1L1472.3 1119.5L1487.4 1119.5L1475.2 1128.4L1479.8 1142.7L1467.6 1133.8L1455.4 1142.7L1460.0 1128.4L1447.8 1119.5L1462.9 1119.5Z" fill="#fff" stroke="#00f" stroke-width="2.5" stroke-linejoin="round"/><path d="M1467.6 1105.1L1472.3 1119.5L1487.4 1119.5L1479.8 1125.0L1455.4 1125.0L1447.8 1119.5L1462.9 1119.5Z" fill="#00f" stroke="#00f" stroke-width="2.5" stroke-linejoin="round"/>
<path d="M1505.0 1105.1L1509.7 1119.5L1524.8 1119.5L1512.6 1128.4L1517.2 1142.7L1505.0 1133.8L1492.8 1142.7L1497.4 1128.4L1485.2 1119.5L1500.3 1119.5Z" fill="#fff" stroke="#00f" stroke-width="2.5" stroke-linejoin="round"/><path d="M1505.0 1105.1L1509.7 1119.5L1524.8 1119.5L1517.2 1125.0L1492.8 1125.0L1485.2 1119.5L1500.3 1119.5Z" fill="#00f" stroke="#00f" stroke-width="2.5" stroke-linejoin="round"/>
<path d="M1606.4 1107.2L1611.1 1121.6L1626.2 1121.6L1614.0 1130.5L1618.6 1144.8L1606.4 1135.9L1594.2 1144.8L1598.8 1130.5L1586.6 1121.6L1601.7 1121.6Z" fill="#fff" stroke="#00f" stroke-width="2.5" stroke-linejoin="round"/><path d="M1606.4 1107.2L1611.1 1121.6L1626.2 1121.6L1618.6 1127.1L1594.2 1127.1L1586.6 1121.6L1601.7 1121.6Z" fill="#00f" stroke="#00f" stroke-width="2.5" stroke-linejoin="round"/>
<path d="M1537.4 1113.7L1542.1 1128.1L1557.2 1128.1L1545.0 1137.0L1549.6 1151.3L1537.4 1142.4L1525.2 1151.3L1529.8 1137.0L1517.6 1128.1L1532.7 1128.1Z" fill="#fff" stroke="#00f" stroke-width="2.5" stroke-linejoin="round"/><path d="M1537.4 1113.7L1542.1 1128.1L1557.2 1128.1L1549.6 1133.6L1525.2 1133.6L1517.6 1128.1L1532.7 1128.1Z" fill="#00f" stroke="#00f" stroke-width="2.5" stroke-linejoin="round"/>
<path d="M1647.4 1117.4L1652.1 1131.8L1667.2 1131.8L1655.0 1140.7L1659.6 1155.0L1647.4 1146.1L1635.2 1155.0L1639.8 1140.7L1627.6 1131.8L1642.7 1131.8Z" fill="#fff" stroke="#00f" stroke-width="2.5" stroke-linejoin="round"/><path d="M1647.4 1117.4L1652.1 1131.8L1667.2 1131.8L1659.6 1137.3L1635.2 1137.3L1627.6 1131.8L1642.7 1131.8Z" fill="#00f" stroke="#00f" stroke-width="2.5" stroke-linejoin="round"/>
<path d="M1611.2 1119.6L1615.9 1134.0L1631.0 1134.0L1618.8 1142.9L1623.4 1157.2L1611.2 1148.3L1599.0 1157.2L1603.6 1142.9L1591.4 1134.0L1606.5 1134.0Z" fill="#fff" stroke="#00f" stroke-width="2.5" stroke-linejoin="round"/><path d="M1611.2 1119.6L1615.9 1134.0L1631.0 1134.0L1623.4 1139.5L1599.0 1139.5L1591.4 1134.0L1606.5 1134.0Z" fill="#00f" stroke="#00f" stroke-width="2.5" stroke-linejoin="round"/>
<path d="M1449.5 1120.7L1454.2 1135.1L1469.3 1135.1L1457.1 1144.0L1461.7 1158.3L1449.5 1149.4L1437.3 1158.3L1441.9 1144.0L1429.7 1135.1L1444.8 1135.1Z" fill="#fff" stroke="#00f" stroke-width="2.5" stroke-linejoin="round"/><path d="M1449.5 1120.7L1454.2 1135.1L1469.3 1135.1L1461.7 1140.6L1437.3 1140.6L1429.7 1135.1L1444.8 1135.1Z" fill="#00f" stroke="#00f" stroke-width="2.5" stroke-linejoin="round"/>
<path d="M1468.4 1119.2L1473.1 1133.6L1488.2 1133.6L1476.0 1142.5L1480.6 1156.8L1468.4 1147.9L1456.2 1156.8L1460.8 1142.5L1448.6 1133.6L1463.7 1133.6Z" fill="#fff" stroke="#00f" stroke-width="2.5" stroke-linejoin="round"/><path d="M1468.4 1119.2L1473.1 1133.6L1488.2 1133.6L1480.6 1139.1L1456.2 1139.1L1448.6 1133.6L1463.7 1133.6Z" fill="#00f" stroke="#00f" stroke-width="2.5" stroke-linejoin="round"/>
<path d="M1569.5 1130.3L1574.2 1144.7L1589.3 1144.7L1577.1 1153.6L1581.7 1167.9L1569.5 1159.0L1557.3 1167.9L1561.9 1153.6L1549.7 1144.7L1564.8 1144.7Z" fill="#fff" stroke="#00f" stroke-width="2.5" stroke-linejoin="round"/><path d="M1569.5 1130.3L1574.2 1144.7L1589.3 1144.7L1581.7 1150.2L1557.3 1150.2L1549.7 1144.7L1564.8 1144.7Z" fill="#00f" stroke="#00f" stroke-width="2.5" stroke-linejoin="round"/>
<path d="M1545.5 1131.2L1550.2 1145.6L1565.3 1145.6L1553.1 1154.5L1557.7 1168.8L1545.5 1159.9L1533.3 1168.8L1537.9 1154.5L1525.7 1145.6L1540.8 1145.6Z" fill="#fff" stroke="#00f" stroke-width="2.5" stroke-linejoin="round"/><path d="M1545.5 1131.2L1550.2 1145.6L1565.3 1145.6L1557.7 1151.1L1533.3 1151.1L1525.7 1145.6L1540.8 1145.6Z" fill="#00f" stroke="#00f" stroke-width="2.5" stroke-linejoin="round"/>
<path d="M1317.7 1141.9L1322.4 1156.3L1337.5 1156.3L1325.3 1165.2L1329.9 1179.5L1317.7 1170.6L1305.5 1179.5L1310.1 1165.2L1297.9 1156.3L1313.0 1156.3Z" fill="#fff" stroke="#00f" stroke-width="2.5" stroke-linejoin="round"/><path d="M1317.7 1141.9L1322.4 1156.3L1337.5 1156.3L1329.9 1161.8L1305.5 1161.8L1297.9 1156.3L1313.0 1156.3Z" fill="#00f" stroke="#00f" stroke-width="2.5" stroke-linejoin="round"/>
<path d="M1358.5 1144.8L1363.2 1159.2L1378.3 1159.2L1366.1 1168.1L1370.7 1182.4L1358.5 1173.5L1346.3 1182.4L1350.9 1168.1L1338.7 1159.2L1353.8 1159.2Z" fill="#fff" stroke="#00f" stroke-width="2.5" stroke-linejoin="round"/><path d="M1358.5 1144.8L1363.2 1159.2L1378.3 1159.2L1370.7 1164.7L1346.3 1164.7L1338.7 1159.2L1353.8 1159.2Z" fill="#00f" stroke="#00f" stroke-width="2.5" stroke-linejoin="round"/>
<path d="M1408.6 1147.1L1413.3 1161.5L1428.4 1161.5L1416.2 1170.4L1420.8 1184.7L1408.6 1175.8L1396.4 1184.7L1401.0 1170.4L1388.8 1161.5L1403.9 1161.5Z" fill="#fff" stroke="#00f" stroke-width="2.5" stroke-linejoin="round"/><path d="M1408.6 1147.1L1413.3 1161.5L1428.4 1161.5L1420.8 1167.0L1396.4 1167.0L1388.8 1161.5L1403.9 1161.5Z" fill="#00f" stroke="#00f" stroke-width="2.5" stroke-linejoin="round"/>
<path d="M1316.0 1153.2L1320.7 1167.6L1335.8 1167.6L1323.6 1176.5L1328.2 1190.8L1316.0 1181.9L1303.8 1190.8L1308.4 1176.5L1296.2 1167.6L1311.3 1167.6Z" fill="#fff" stroke="#00f" stroke-width="2.5" stroke-linejoin="round"/><path d="M1316.0 1153.2L1320.7 1167.6L1335.8 1167.6L1328.2 1173.1L1303.8 1173.1L1296.2 1167.6L1311.3 1167.6Z" fill="#00f" stroke="#00f" stroke-width="2.5" stroke-linejoin="round"/>
<path d="M1647.4 1150.7L1652.1 1165.1L1667.2 1165.1L1655.0 1174.0L1659.6 1188.3L1647.4 1179.4L1635.2 1188.3L1639.8 1174.0L1627.6 1165.1L1642.7 1165.1Z" fill="#fff" stroke="#00f" stroke-width="2.5" stroke-linejoin="round"/><path d="M1647.4 1150.7L1652.1 1165.1L1667.2 1165.1L1659.6 1170.6L1635.2 1170.6L1627.6 1165.1L1642.7 1165.1Z" fill="#00f" stroke="#00f" stroke-width="2.5" stroke-linejoin="round"/>
<path d="M1569.7 1156.0L1574.4 1170.4L1589.5 1170.4L1577.3 1179.3L1581.9 1193.6L1569.7 1184.7L1557.5 1193.6L1562.1 1179.3L1549.9 1170.4L1565.0 1170.4Z" fill="#fff" stroke="#00f" stroke-width="2.5" stroke-linejoin="round"/><path d="M1569.7 1156.0L1574.4 1170.4L1589.5 1170.4L1581.9 1175.9L1557.5 1175.9L1549.9 1170.4L1565.0 1170.4Z" fill="#00f" stroke="#00f" stroke-width="2.5" stroke-linejoin="round"/>
<path d="M1532.2 1160.8L1536.9 1175.2L1552.0 1175.2L1539.8 1184.1L1544.4 1198.4L1532.2 1189.5L1520.0 1198.4L1524.6 1184.1L1512.4 1175.2L1527.5 1175.2Z" fill="#fff" stroke="#00f" stroke-width="2.5" stroke-linejoin="round"/><path d="M1532.2 1160.8L1536.9 1175.2L1552.0 1175.2L1544.4 1180.7L1520.0 1180.7L1512.4 1175.2L1527.5 1175.2Z" fill="#00f" stroke="#00f" stroke-width="2.5" stroke-linejoin="round"/>
<path d="M1529.0 1165.0L1533.7 1179.4L1548.8 1179.4L1536.6 1188.3L1541.2 1202.6L1529.0 1193.7L1516.8 1202.6L1521.4 1188.3L1509.2 1179.4L1524.3 1179.4Z" fill="#fff" stroke="#00f" stroke-width="2.5" stroke-linejoin="round"/><path d="M1529.0 1165.0L1533.7 1179.4L1548.8 1179.4L1541.2 1184.9L1516.8 1184.9L1509.2 1179.4L1524.3 1179.4Z" fill="#00f" stroke="#00f" stroke-width="2.5" stroke-linejoin="round"/>
<path d="M1309.1 1165.5L1313.8 1179.9L1328.9 1179.9L1316.7 1188.8L1321.3 1203.1L1309.1 1194.2L1296.9 1203.1L1301.5 1188.8L1289.3 1179.9L1304.4 1179.9Z" fill="#fff" stroke="#00f" stroke-width="2.5" stroke-linejoin="round"/><path d="M1309.1 1165.5L1313.8 1179.9L1328.9 1179.9L1321.3 1185.4L1296.9 1185.4L1289.3 1179.9L1304.4 1179.9Z" fill="#00f" stroke="#00f" stroke-width="2.5" stroke-linejoin="round"/>
<path d="M1352.9 1165.9L1357.6 1180.3L1372.7 1180.3L1360.5 1189.2L1365.1 1203.5L1352.9 1194.6L1340.7 1203.5L1345.3 1189.2L1333.1 1180.3L1348.2 1180.3Z" fill="#fff" stroke="#00f" stroke-width="2.5" stroke-linejoin="round"/><path d="M1352.9 1165.9L1357.6 1180.3L1372.7 1180.3L1365.1 1185.8L1340.7 1185.8L1333.1 1180.3L1348.2 1180.3Z" fill="#00f" stroke="#00f" stroke-width="2.5" stroke-linejoin="round"/>
<path d="M1412.5 1166.3L1417.2 1180.7L1432.3 1180.7L1420.1 1189.6L1424.7 1203.9L1412.5 1195.0L1400.3 1203.9L1404.9 1189.6L1392.7 1180.7L1407.8 1180.7Z" fill="#fff" stroke="#00f" stroke-width="2.5" stroke-linejoin="round"/><path d="M1412.5 1166.3L1417.2 1180.7L1432.3 1180.7L1424.7 1186.2L1400.3 1186.2L1392.7 1180.7L1407.8 1180.7Z" fill="#00f" stroke="#00f" stroke-width="2.5" stroke-linejoin="round"/>
<path d="M1579.5 1167.0L1584.2 1181.4L1599.3 1181.4L1587.1 1190.3L1591.7 1204.6L1579.5 1195.7L1567.3 1204.6L1571.9 1190.3L1559.7 1181.4L1574.8 1181.4Z" fill="#fff" stroke="#00f" stroke-width="2.5" stroke-linejoin="round"/><path d="M1579.5 1167.0L1584.2 1181.4L1599.3 1181.4L1591.7 1186.9L1567.3 1186.9L1559.7 1181.4L1574.8 1181.4Z" fill="#00f" stroke="#00f" stroke-width="2.5" stroke-linejoin="round"/>
<path d="M1561.0 1174.9L1565.7 1189.3L1580.8 1189.3L1568.6 1198.2L1573.2 1212.5L1561.0 1203.6L1548.8 1212.5L1553.4 1198.2L1541.2 1189.3L1556.3 1189.3Z" fill="#fff" stroke="#00f" stroke-width="2.5" stroke-linejoin="round"/><path d="M1561.0 1174.9L1565.7 1189.3L1580.8 1189.3L1573.2 1194.8L1548.8 1194.8L1541.2 1189.3L1556.3 1189.3Z" fill="#00f" stroke="#00f" stroke-width="2.5" stroke-linejoin="round"/>
<path d="M1538.1 1188.6L1542.8 1203.0L1557.9 1203.0L1545.7 1211.9L1550.3 1226.2L1538.1 1217.3L1525.9 1226.2L1530.5 1211.9L1518.3 1203.0L1533.4 1203.0Z" fill="#fff" stroke="#00f" stroke-width="2.5" stroke-linejoin="round"/><path d="M1538.1 1188.6L1542.8 1203.0L1557.9 1203.0L1550.3 1208.5L1525.9 1208.5L1518.3 1203.0L1533.4 1203.0Z" fill="#00f" stroke="#00f" stroke-width="2.5" stroke-linejoin="round"/>
<path d="M1490.0 1190.8L1494.7 1205.2L1509.8 1205.2L1497.6 1214.1L1502.2 1228.4L1490.0 1219.5L1477.8 1228.4L1482.4 1214.1L1470.2 1205.2L1485.3 1205.2Z" fill="#fff" stroke="#00f" stroke-width="2.5" stroke-linejoin="round"/><path d="M1490.0 1190.8L1494.7 1205.2L1509.8 1205.2L1502.2 1210.7L1477.8 1210.7L1470.2 1205.2L1485.3 1205.2Z" fill="#00f" stroke="#00f" stroke-width="2.5" stroke-linejoin="round"/>
<path d="M1408.7 1195.3L1413.4 1209.7L1428.5 1209.7L1416.3 1218.6L1420.9 1232.9L1408.7 1224.0L1396.5 1232.9L1401.1 1218.6L1388.9 1209.7L1404.0 1209.7Z" fill="#fff" stroke="#00f" stroke-width="2.5" stroke-linejoin="round"/><path d="M1408.7 1195.3L1413.4 1209.7L1428.5 1209.7L1420.9 1215.2L1396.5 1215.2L1388.9 1209.7L1404.0 1209.7Z" fill="#00f" stroke="#00f" stroke-width="2.5" stroke-linejoin="round"/>
<path d="M1497.1 1205.4L1501.8 1219.8L1516.9 1219.8L1504.7 1228.7L1509.3 1243.0L1497.1 1234.1L1484.9 1243.0L1489.5 1228.7L1477.3 1219.8L1492.4 1219.8Z" fill="#fff" stroke="#00f" stroke-width="2.5" stroke-linejoin="round"/><path d="M1497.1 1205.4L1501.8 1219.8L1516.9 1219.8L1509.3 1225.3L1484.9 1225.3L1477.3 1219.8L1492.4 1219.8Z" fill="#00f" stroke="#00f" stroke-width="2.5" stroke-linejoin="round"/>
<path d="M1378.6 1205.7L1383.3 1220.1L1398.4 1220.1L1386.2 1229.0L1390.8 1243.3L1378.6 1234.4L1366.4 1243.3L1371.0 1229.0L1358.8 1220.1L1373.9 1220.1Z" fill="#fff" stroke="#00f" stroke-width="2.5" stroke-linejoin="round"/><path d="M1378.6 1205.7L1383.3 1220.1L1398.4 1220.1L1390.8 1225.6L1366.4 1225.6L1358.8 1220.1L1373.9 1220.1Z" fill="#00f" stroke="#00f" stroke-width="2.5" stroke-linejoin="round"/>
<path d="M1628.9 1206.4L1633.6 1220.8L1648.7 1220.8L1636.5 1229.7L1641.1 1244.0L1628.9 1235.1L1616.7 1244.0L1621.3 1229.7L1609.1 1220.8L1624.2 1220.8Z" fill="#fff" stroke="#00f" stroke-width="2.5" stroke-linejoin="round"/><path d="M1628.9 1206.4L1633.6 1220.8L1648.7 1220.8L1641.1 1226.3L1616.7 1226.3L1609.1 1220.8L1624.2 1220.8Z" fill="#00f" stroke="#00f" stroke-width="2.5" stroke-linejoin="round"/>
<path d="M1622.3 1210.1L1627.0 1224.5L1642.1 1224.5L1629.9 1233.4L1634.5 1247.7L1622.3 1238.8L1610.1 1247.7L1614.7 1233.4L1602.5 1224.5L1617.6 1224.5Z" fill="#fff" stroke="#00f" stroke-width="2.5" stroke-linejoin="round"/><path d="M1622.3 1210.1L1627.0 1224.5L1642.1 1224.5L1634.5 1230.0L1610.1 1230.0L1602.5 1224.5L1617.6 1224.5Z" fill="#00f" stroke="#00f" stroke-width="2.5" stroke-linejoin="round"/>
<path d="M1569.1 1213.8L1573.8 1228.2L1588.9 1228.2L1576.7 1237.1L1581.3 1251.4L1569.1 1242.5L1556.9 1251.4L1561.5 1237.1L1549.3 1228.2L1564.4 1228.2Z" fill="#fff" stroke="#00f" stroke-width="2.5" stroke-linejoin="round"/><path d="M1569.1 1213.8L1573.8 1228.2L1588.9 1228.2L1581.3 1233.7L1556.9 1233.7L1549.3 1228.2L1564.4 1228.2Z" fill="#00f" stroke="#00f" stroke-width="2.5" stroke-linejoin="round"/>
<path d="M1566.5 1224.7L1571.2 1239.1L1586.3 1239.1L1574.1 1248.0L1578.7 1262.3L1566.5 1253.4L1554.3 1262.3L1558.9 1248.0L1546.7 1239.1L1561.8 1239.1Z" fill="#fff" stroke="#00f" stroke-width="2.5" stroke-linejoin="round"/><path d="M1566.5 1224.7L1571.2 1239.1L1586.3 1239.1L1578.7 1244.6L1554.3 1244.6L1546.7 1239.1L1561.8 1239.1Z" fill="#00f" stroke="#00f" stroke-width="2.5" stroke-linejoin="round"/>
<path d="M1610.4 1227.6L1615.1 1242.0L1630.2 1242.0L1618.0 1250.9L1622.6 1265.2L1610.4 1256.3L1598.2 1265.2L1602.8 1250.9L1590.6 1242.0L1605.7 1242.0Z" fill="#fff" stroke="#00f" stroke-width="2.5" stroke-linejoin="round"/><path d="M1610.4 1227.6L1615.1 1242.0L1630.2 1242.0L1622.6 1247.5L1598.2 1247.5L1590.6 1242.0L1605.7 1242.0Z" fill="#00f" stroke="#00f" stroke-width="2.5" stroke-linejoin="round"/>
<path d="M1630.0 1227.2L1634.7 1241.6L1649.8 1241.6L1637.6 1250.5L1642.2 1264.8L1630.0 1255.9L1617.8 1264.8L1622.4 1250.5L1610.2 1241.6L1625.3 1241.6Z" fill="#fff" stroke="#00f" stroke-width="2.5" stroke-linejoin="round"/><path d="M1630.0 1227.2L1634.7 1241.6L1649.8 1241.6L1642.2 1247.1L1617.8 1247.1L1610.2 1241.6L1625.3 1241.6Z" fill="#00f" stroke="#00f" stroke-width="2.5" stroke-linejoin="round"/>
<path d="M1644.9 1241.1L1649.6 1255.5L1664.7 1255.5L1652.5 1264.4L1657.1 1278.7L1644.9 1269.8L1632.7 1278.7L1637.3 1264.4L1625.1 1255.5L1640.2 1255.5Z" fill="#fff" stroke="#00f" stroke-width="2.5" stroke-linejoin="round"/><path d="M1644.9 1241.1L1649.6 1255.5L1664.7 1255.5L1657.1 1261.0L1632.7 1261.0L1625.1 1255.5L1640.2 1255.5Z" fill="#00f" stroke="#00f" stroke-width="2.5" stroke-linejoin="round"/>
<path d="M1410.1 1253.8L1414.8 1268.2L1429.9 1268.2L1417.7 1277.1L1422.3 1291.4L1410.1 1282.5L1397.9 1291.4L1402.5 1277.1L1390.3 1268.2L1405.4 1268.2Z" fill="#fff" stroke="#00f" stroke-width="2.5" stroke-linejoin="round"/><path d="M1410.1 1253.8L1414.8 1268.2L1429.9 1268.2L1422.3 1273.7L1397.9 1273.7L1390.3 1268.2L1405.4 1268.2Z" fill="#00f" stroke="#00f" stroke-width="2.5" stroke-linejoin="round"/>
<path d="M1614.1 1243.4L1618.8 1257.8L1633.9 1257.8L1621.7 1266.7L1626.3 1281.0L1614.1 1272.1L1601.9 1281.0L1606.5 1266.7L1594.3 1257.8L1609.4 1257.8Z" fill="#fff" stroke="#00f" stroke-width="2.5" stroke-linejoin="round"/><path d="M1614.1 1243.4L1618.8 1257.8L1633.9 1257.8L1626.3 1263.3L1601.9 1263.3L1594.3 1257.8L1609.4 1257.8Z" fill="#00f" stroke="#00f" stroke-width="2.5" stroke-linejoin="round"/>
<path d="M1628.9 1243.2L1633.6 1257.6L1648.7 1257.6L1636.5 1266.5L1641.1 1280.8L1628.9 1271.9L1616.7 1280.8L1621.3 1266.5L1609.1 1257.6L1624.2 1257.6Z" fill="#fff" stroke="#00f" stroke-width="2.5" stroke-linejoin="round"/><path d="M1628.9 1243.2L1633.6 1257.6L1648.7 1257.6L1641.1 1263.1L1616.7 1263.1L1609.1 1257.6L1624.2 1257.6Z" fill="#00f" stroke="#00f" stroke-width="2.5" stroke-linejoin="round"/>
<path d="M1587.8 1256.8L1592.5 1271.2L1607.6 1271.2L1595.4 1280.1L1600.0 1294.4L1587.8 1285.5L1575.6 1294.4L1580.2 1280.1L1568.0 1271.2L1583.1 1271.2Z" fill="#fff" stroke="#00f" stroke-width="2.5" stroke-linejoin="round"/><path d="M1587.8 1256.8L1592.5 1271.2L1607.6 1271.2L1600.0 1276.7L1575.6 1276.7L1568.0 1271.2L1583.1 1271.2Z" fill="#00f" stroke="#00f" stroke-width="2.5" stroke-linejoin="round"/>
<path d="M1578.6 1269.3L1583.3 1283.7L1598.4 1283.7L1586.2 1292.6L1590.8 1306.9L1578.6 1298.0L1566.4 1306.9L1571.0 1292.6L1558.8 1283.7L1573.9 1283.7Z" fill="#fff" stroke="#00f" stroke-width="2.5" stroke-linejoin="round"/><path d="M1578.6 1269.3L1583.3 1283.7L1598.4 1283.7L1590.8 1289.2L1566.4 1289.2L1558.8 1283.7L1573.9 1283.7Z" fill="#00f" stroke="#00f" stroke-width="2.5" stroke-linejoin="round"/>
<path d="M1629.9 1274.9L1634.6 1289.3L1649.7 1289.3L1637.5 1298.2L1642.1 1312.5L1629.9 1303.6L1617.7 1312.5L1622.3 1298.2L1610.1 1289.3L1625.2 1289.3Z" fill="#fff" stroke="#00f" stroke-width="2.5" stroke-linejoin="round"/><path d="M1629.9 1274.9L1634.6 1289.3L1649.7 1289.3L1642.1 1294.8L1617.7 1294.8L1610.1 1289.3L1625.2 1289.3Z" fill="#00f" stroke="#00f" stroke-width="2.5" stroke-linejoin="round"/>
<path d="M1412.5 1270.6L1417.2 1285.0L1432.3 1285.0L1420.1 1293.9L1424.7 1308.2L1412.5 1299.3L1400.3 1308.2L1404.9 1293.9L1392.7 1285.0L1407.8 1285.0Z" fill="#fff" stroke="#00f" stroke-width="2.5" stroke-linejoin="round"/><path d="M1412.5 1270.6L1417.2 1285.0L1432.3 1285.0L1424.7 1290.5L1400.3 1290.5L1392.7 1285.0L1407.8 1285.0Z" fill="#00f" stroke="#00f" stroke-width="2.5" stroke-linejoin="round"/>
<path d="M1569.9 1280.4L1574.6 1294.8L1589.7 1294.8L1577.5 1303.7L1582.1 1318.0L1569.9 1309.1L1557.7 1318.0L1562.3 1303.7L1550.1 1294.8L1565.2 1294.8Z" fill="#fff" stroke="#00f" stroke-width="2.5" stroke-linejoin="round"/><path d="M1569.9 1280.4L1574.6 1294.8L1589.7 1294.8L1582.1 1300.3L1557.7 1300.3L1550.1 1294.8L1565.2 1294.8Z" fill="#00f" stroke="#00f" stroke-width="2.5" stroke-linejoin="round"/>
<path d="M1644.9 1284.2L1649.6 1298.6L1664.7 1298.6L1652.5 1307.5L1657.1 1321.8L1644.9 1312.9L1632.7 1321.8L1637.3 1307.5L1625.1 1298.6L1640.2 1298.6Z" fill="#fff" stroke="#00f" stroke-width="2.5" stroke-linejoin="round"/><path d="M1644.9 1284.2L1649.6 1298.6L1664.7 1298.6L1657.1 1304.1L1632.7 1304.1L1625.1 1298.6L1640.2 1298.6Z" fill="#00f" stroke="#00f" stroke-width="2.5" stroke-linejoin="round"/>
<path d="M1631.4 1282.2L1636.1 1296.6L1651.2 1296.6L1639.0 1305.5L1643.6 1319.8L1631.4 1310.9L1619.2 1319.8L1623.8 1305.5L1611.6 1296.6L1626.7 1296.6Z" fill="#fff" stroke="#00f" stroke-width="2.5" stroke-linejoin="round"/><path d="M1631.4 1282.2L1636.1 1296.6L1651.2 1296.6L1643.6 1302.1L1619.2 1302.1L1611.6 1296.6L1626.7 1296.6Z" fill="#00f" stroke="#00f" stroke-width="2.5" stroke-linejoin="round"/>
<path d="M1560.0 1201.2L1564.7 1215.6L1579.8 1215.6L1567.6 1224.5L1572.2 1238.8L1560.0 1229.9L1547.8 1238.8L1552.4 1224.5L1540.2 1215.6L1555.3 1215.6Z" fill="#fff" stroke="#00f" stroke-width="2.5" stroke-linejoin="round"/><path d="M1560.0 1201.2L1564.7 1215.6L1579.8 1215.6L1572.2 1221.1L1547.8 1221.1L1540.2 1215.6L1555.3 1215.6Z" fill="#00f" stroke="#00f" stroke-width="2.5" stroke-linejoin="round"/>
<path d="M1575.0 1241.2L1579.7 1255.6L1594.8 1255.6L1582.6 1264.5L1587.2 1278.8L1575.0 1269.9L1562.8 1278.8L1567.4 1264.5L1555.2 1255.6L1570.3 1255.6Z" fill="#fff" stroke="#00f" stroke-width="2.5" stroke-linejoin="round"/><path d="M1575.0 1241.2L1579.7 1255.6L1594.8 1255.6L1587.2 1261.1L1562.8 1261.1L1555.2 1255.6L1570.3 1255.6Z" fill="#00f" stroke="#00f" stroke-width="2.5" stroke-linejoin="round"/>
<path d="M1558.0 1254.2L1562.7 1268.6L1577.8 1268.6L1565.6 1277.5L1570.2 1291.8L1558.0 1282.9L1545.8 1291.8L1550.4 1277.5L1538.2 1268.6L1553.3 1268.6Z" fill="#fff" stroke="#00f" stroke-width="2.5" stroke-linejoin="round"/><path d="M1558.0 1254.2L1562.7 1268.6L1577.8 1268.6L1570.2 1274.1L1545.8 1274.1L1538.2 1268.6L1553.3 1268.6Z" fill="#00f" stroke="#00f" stroke-width="2.5" stroke-linejoin="round"/>
<path d="M1554.8 1290.1L1559.5 1304.5L1574.6 1304.5L1562.4 1313.4L1567.0 1327.7L1554.8 1318.8L1542.6 1327.7L1547.2 1313.4L1535.0 1304.5L1550.1 1304.5Z" fill="#fff" stroke="#00f" stroke-width="2.5" stroke-linejoin="round"/><path d="M1554.8 1290.1L1559.5 1304.5L1574.6 1304.5L1567.0 1310.0L1542.6 1310.0L1535.0 1304.5L1550.1 1304.5Z" fill="#00f" stroke="#00f" stroke-width="2.5" stroke-linejoin="round"/>
<path d="M1527.6 1302.0L1532.3 1316.4L1547.4 1316.4L1535.2 1325.3L1539.8 1339.6L1527.6 1330.7L1515.4 1339.6L1520.0 1325.3L1507.8 1316.4L1522.9 1316.4Z" fill="#fff" stroke="#00f" stroke-width="2.5" stroke-linejoin="round"/><path d="M1527.6 1302.0L1532.3 1316.4L1547.4 1316.4L1539.8 1321.9L1515.4 1321.9L1507.8 1316.4L1522.9 1316.4Z" fill="#00f" stroke="#00f" stroke-width="2.5" stroke-linejoin="round"/>
<path d="M1583.0 1305.7L1587.7 1320.1L1602.8 1320.1L1590.6 1329.0L1595.2 1343.3L1583.0 1334.4L1570.8 1343.3L1575.4 1329.0L1563.2 1320.1L1578.3 1320.1Z" fill="#fff" stroke="#00f" stroke-width="2.5" stroke-linejoin="round"/><path d="M1583.0 1305.7L1587.7 1320.1L1602.8 1320.1L1595.2 1325.6L1570.8 1325.6L1563.2 1320.1L1578.3 1320.1Z" fill="#00f" stroke="#00f" stroke-width="2.5" stroke-linejoin="round"/>
<path d="M1585.3 1319.7L1590.0 1334.1L1605.1 1334.1L1592.9 1343.0L1597.5 1357.3L1585.3 1348.4L1573.1 1357.3L1577.7 1343.0L1565.5 1334.1L1580.6 1334.1Z" fill="#fff" stroke="#00f" stroke-width="2.5" stroke-linejoin="round"/><path d="M1585.3 1319.7L1590.0 1334.1L1605.1 1334.1L1597.5 1339.6L1573.1 1339.6L1565.5 1334.1L1580.6 1334.1Z" fill="#00f" stroke="#00f" stroke-width="2.5" stroke-linejoin="round"/>
<path d="M1609.0 1319.2L1613.7 1333.6L1628.8 1333.6L1616.6 1342.5L1621.2 1356.8L1609.0 1347.9L1596.8 1356.8L1601.4 1342.5L1589.2 1333.6L1604.3 1333.6Z" fill="#fff" stroke="#00f" stroke-width="2.5" stroke-linejoin="round"/><path d="M1609.0 1319.2L1613.7 1333.6L1628.8 1333.6L1621.2 1339.1L1596.8 1339.1L1589.2 1333.6L1604.3 1333.6Z" fill="#00f" stroke="#00f" stroke-width="2.5" stroke-linejoin="round"/>
<path d="M1585.4 1345.3L1590.1 1359.7L1605.2 1359.7L1593.0 1368.6L1597.6 1382.9L1585.4 1374.0L1573.2 1382.9L1577.8 1368.6L1565.6 1359.7L1580.7 1359.7Z" fill="#fff" stroke="#00f" stroke-width="2.5" stroke-linejoin="round"/><path d="M1585.4 1345.3L1590.1 1359.7L1605.2 1359.7L1597.6 1365.2L1573.2 1365.2L1565.6 1359.7L1580.7 1359.7Z" fill="#00f" stroke="#00f" stroke-width="2.5" stroke-linejoin="round"/>
<path d="M1524.4 1349.8L1529.1 1364.2L1544.2 1364.2L1532.0 1373.1L1536.6 1387.4L1524.4 1378.5L1512.2 1387.4L1516.8 1373.1L1504.6 1364.2L1519.7 1364.2Z" fill="#fff" stroke="#00f" stroke-width="2.5" stroke-linejoin="round"/><path d="M1524.4 1349.8L1529.1 1364.2L1544.2 1364.2L1536.6 1369.7L1512.2 1369.7L1504.6 1364.2L1519.7 1364.2Z" fill="#00f" stroke="#00f" stroke-width="2.5" stroke-linejoin="round"/>
<path d="M1468.6 1356.6L1473.3 1371.0L1488.4 1371.0L1476.2 1379.9L1480.8 1394.2L1468.6 1385.3L1456.4 1394.2L1461.0 1379.9L1448.8 1371.0L1463.9 1371.0Z" fill="#fff" stroke="#00f" stroke-width="2.5" stroke-linejoin="round"/><path d="M1468.6 1356.6L1473.3 1371.0L1488.4 1371.0L1480.8 1376.5L1456.4 1376.5L1448.8 1371.0L1463.9 1371.0Z" fill="#00f" stroke="#00f" stroke-width="2.5" stroke-linejoin="round"/>
<path d="M1554.5 1381.5L1559.2 1395.9L1574.3 1395.9L1562.1 1404.8L1566.7 1419.1L1554.5 1410.2L1542.3 1419.1L1546.9 1404.8L1534.7 1395.9L1549.8 1395.9Z" fill="#fff" stroke="#00f" stroke-width="2.5" stroke-linejoin="round"/><path d="M1554.5 1381.5L1559.2 1395.9L1574.3 1395.9L1566.7 1401.4L1542.3 1401.4L1534.7 1395.9L1549.8 1395.9Z" fill="#00f" stroke="#00f" stroke-width="2.5" stroke-linejoin="round"/>
<path d="M1609.6 1382.2L1614.3 1396.6L1629.4 1396.6L1617.2 1405.5L1621.8 1419.8L1609.6 1410.9L1597.4 1419.8L1602.0 1405.5L1589.8 1396.6L1604.9 1396.6Z" fill="#fff" stroke="#00f" stroke-width="2.5" stroke-linejoin="round"/><path d="M1609.6 1382.2L1614.3 1396.6L1629.4 1396.6L1621.8 1402.1L1597.4 1402.1L1589.8 1396.6L1604.9 1396.6Z" fill="#00f" stroke="#00f" stroke-width="2.5" stroke-linejoin="round"/>
<path d="M1630.7 1390.5L1635.4 1404.9L1650.5 1404.9L1638.3 1413.8L1642.9 1428.1L1630.7 1419.2L1618.5 1428.1L1623.1 1413.8L1610.9 1404.9L1626.0 1404.9Z" fill="#fff" stroke="#00f" stroke-width="2.5" stroke-linejoin="round"/><path d="M1630.7 1390.5L1635.4 1404.9L1650.5 1404.9L1642.9 1410.4L1618.5 1410.4L1610.9 1404.9L1626.0 1404.9Z" fill="#00f" stroke="#00f" stroke-width="2.5" stroke-linejoin="round"/>
</g>
<rect x="1081.9" y="54.9" width="566.1" height="174.0" fill="#fff" stroke="#000" stroke-width="1.8"/>
<rect x="273.2" y="1067.6" width="639.4" height="202.5" fill="#fff" stroke="#000" stroke-width="1.8"/>
<rect x="273.2" y="1368.4" width="660.5" height="202.1" fill="#fff" stroke="#000" stroke-width="1.8"/>
<path d="M265.1 782.4L270.8 782.6L276.5 782.8L282.2 783.1L287.9 783.3L293.6 783.6L299.2 783.8L304.9 784.1L310.6 784.3L316.3 784.6L322.0 784.9M372.2 787.5L377.9 787.8L383.5 788.1L389.2 788.5L394.9 788.8L400.5 789.1L406.2 789.5L411.9 789.9L417.6 790.2L423.2 790.6L428.9 791.0M478.6 794.6L484.3 795.1L490.0 795.5L495.7 796.0L501.4 796.5L507.1 797.0L512.7 797.4L518.4 798.0L524.1 798.5L529.8 799.0L535.5 799.5M584.7 804.5L590.4 805.2L596.1 805.8L601.9 806.5L607.6 807.2L613.3 807.8L619.0 808.5L624.7 809.2L630.5 810.0L636.2 810.7L641.9 811.4M690.8 818.3L696.4 819.2L702.0 820.1L707.6 821.0L713.2 821.9L718.8 822.8L724.4 823.7L730.0 824.7L735.6 825.6L741.2 826.6L746.8 827.6M797.6 837.4L803.1 838.6L808.5 839.7L814.0 840.9L819.5 842.1L825.0 843.3L830.4 844.6L835.9 845.8L841.4 847.1L846.8 848.4L852.3 849.7M901.0 862.4L907.0 864.0L912.9 865.7L918.9 867.5L924.8 869.2L930.8 871.0L936.7 872.8L942.7 874.6L948.6 876.5L954.6 878.4M1001.2 894.2L1006.9 896.3L1012.7 898.4L1018.4 900.6L1024.1 902.7L1029.9 904.9L1035.6 907.2L1041.3 909.4L1047.1 911.8L1052.8 914.1M1101.4 935.2L1107.2 937.9L1112.9 940.5L1118.7 943.3L1124.4 946.0L1130.2 948.8L1135.9 951.7L1141.7 954.6L1147.4 957.5M1189.2 979.7L1194.9 983.0L1200.7 986.2L1206.4 989.5L1212.1 992.8L1217.8 996.2L1223.5 999.6L1229.3 1003.0L1235.0 1006.5M1274.6 1031.6L1280.4 1035.5L1286.2 1039.3L1292.0 1043.3L1297.8 1047.2L1303.6 1051.2L1309.4 1055.3L1315.2 1059.4M1349.4 1084.3L1355.2 1088.7L1361.0 1093.1L1366.8 1097.6L1372.6 1102.1L1378.4 1106.6L1384.2 1111.2L1390.0 1115.8M1424.8 1144.4L1430.3 1149.0L1435.7 1153.7L1441.2 1158.3L1446.6 1163.1L1452.1 1167.8L1457.5 1172.6L1463.0 1177.5M1497.4 1208.7L1503.1 1214.0L1508.7 1219.3L1514.4 1224.6L1520.0 1230.0L1525.7 1235.4L1531.3 1240.9L1537.0 1246.4M1544.3 1253.5L1549.8 1259.0L1555.4 1264.4L1560.9 1269.9L1566.4 1275.5L1571.9 1281.1L1577.5 1286.7L1583.0 1292.3M1612.2 1322.6L1617.5 1328.3L1622.9 1333.9L1628.2 1339.6L1633.5 1345.3L1638.8 1351.0L1644.2 1356.8L1649.5 1362.6" fill="none" stroke="#1b6ede" stroke-width="10.8" stroke-linejoin="round"/>
<path d="M265.1 498.4L270.8 498.6L276.5 498.9L282.2 499.2L287.9 499.4L293.6 499.7L299.2 500.0L304.9 500.3L310.6 500.6L316.3 500.9L322.0 501.2M372.2 504.2L377.9 504.6L383.5 505.0L389.2 505.4L394.9 505.8L400.5 506.2L406.2 506.6L411.9 507.0L417.6 507.4L423.2 507.8L428.9 508.3M478.6 512.5L484.3 513.0L490.0 513.5L495.7 514.1L501.4 514.6L507.1 515.2L512.7 515.8L518.4 516.3L524.1 516.9L529.8 517.5L535.5 518.2M584.7 524.0L590.4 524.7L596.0 525.4L601.7 526.2L607.4 527.0L613.0 527.7L618.7 528.5L624.4 529.4L630.1 530.2L635.7 531.0L641.4 531.9M690.4 539.9L695.9 540.9L701.4 541.9L706.8 542.9L712.3 543.9L717.8 545.0L723.3 546.0L728.8 547.1L734.2 548.2L739.7 549.3L745.2 550.5M794.9 561.6L800.4 563.0L805.9 564.3L811.3 565.7L816.8 567.1L822.3 568.5L827.8 570.0L833.3 571.4L838.7 572.9L844.2 574.4L849.7 576.0M898.4 590.8L904.0 592.6L909.6 594.4L915.1 596.3L920.7 598.2L926.3 600.2L931.9 602.2L937.5 604.2L943.0 606.2L948.6 608.3L954.2 610.4M1001.9 629.6L1007.4 632.0L1013.0 634.5L1018.5 636.9L1024.0 639.4L1029.6 642.0L1035.1 644.6L1040.6 647.2L1046.2 649.8L1051.7 652.5M1091.7 673.1L1097.6 676.3L1103.4 679.5L1109.3 682.8L1115.2 686.1L1121.0 689.5L1126.9 692.9L1132.7 696.3L1138.6 699.9M1176.1 723.5L1181.4 727.0L1186.8 730.6L1192.1 734.2L1197.5 737.9L1202.8 741.6L1208.2 745.4L1213.5 749.1L1218.9 753.0L1224.2 756.9M1258.7 783.0L1264.6 787.7L1270.6 792.4L1276.5 797.2L1282.5 802.1L1288.4 807.0L1294.4 812.0L1300.3 817.0M1336.0 848.4L1341.4 853.4L1346.9 858.5L1352.3 863.5L1357.8 868.7L1363.2 873.8L1368.7 879.1L1374.1 884.3M1404.5 914.7L1410.5 920.8L1416.5 927.1L1422.5 933.3L1428.4 939.7L1434.4 946.1L1440.4 952.5M1470.8 986.2L1476.3 992.5L1481.9 998.9L1487.4 1005.3L1493.0 1011.8L1498.5 1018.3L1504.1 1024.9M1533.7 1060.7L1539.2 1067.5L1544.7 1074.4L1550.2 1081.3L1555.7 1088.2L1561.1 1095.2L1566.6 1102.2L1572.1 1109.3L1577.6 1116.4M1605.6 1153.5L1611.5 1161.5L1617.5 1169.6L1623.4 1177.7L1629.4 1185.8L1635.3 1194.1" fill="none" stroke="#b077dd" stroke-width="10.8" stroke-linejoin="round"/>
<path d="M265.0 680.2L271.0 680.6L277.0 681.0L283.0 681.4L288.9 681.9L294.9 682.3L300.9 682.7L306.9 683.2L312.9 683.6L318.9 684.1L324.8 684.6L330.8 685.1L336.8 685.6L342.8 686.1L348.8 686.6L354.8 687.1L360.8 687.6L366.7 688.2L372.7 688.7L378.7 689.3L384.7 689.9L390.7 690.5L396.7 691.1L402.6 691.7L408.6 692.3L414.6 692.9L420.6 693.6L426.6 694.2L432.6 694.9L438.6 695.6L444.5 696.3L450.5 697.0L456.5 697.7L462.5 698.5L468.5 699.2L474.5 700.0L480.4 700.8L486.4 701.6L492.4 702.4L498.4 703.2L504.4 704.0L510.4 704.9L516.3 705.8L522.3 706.7L528.3 707.6L534.3 708.5L540.3 709.4L546.3 710.4L552.3 711.4L558.2 712.4L564.2 713.4L570.2 714.4L576.2 715.5L582.2 716.6L588.2 717.7L594.1 718.8L600.1 719.9L606.1 721.1L612.1 722.3L618.1 723.5L624.1 724.7L630.1 725.9L636.0 727.2L642.0 728.5L648.0 729.8L654.0 731.1L660.0 732.5L666.0 733.9L671.9 735.3L677.9 736.8L683.9 738.2L689.9 739.7L695.9 741.2L701.9 742.8L707.9 744.4L713.8 746.0L719.8 747.6L725.8 749.3L731.8 751.0L737.8 752.7L743.8 754.4L749.7 756.2L755.7 758.0L761.7 759.9L767.7 761.8L773.7 763.7L779.7 765.6L785.6 767.6L791.6 769.6L797.6 771.7L803.6 773.8L809.6 775.9L815.6 778.1L821.6 780.3L827.5 782.5L833.5 784.8L839.5 787.1L845.5 789.4L851.5 791.8L857.5 794.3L863.4 796.7L869.4 799.2L875.4 801.8L881.4 804.4L887.4 807.1L893.4 809.7L899.4 812.5L905.3 815.2L911.3 818.1L917.3 820.9L923.3 823.8L929.3 826.8L935.3 829.8L941.2 832.9L947.2 836.0L953.2 839.1L959.2 842.3L965.2 845.6L971.2 848.9L977.2 852.3L983.1 855.7L989.1 859.2L995.1 862.7L1001.1 866.2L1007.1 869.9L1013.1 873.6L1019.0 877.3L1025.0 881.1L1031.0 884.9L1037.0 888.9L1043.0 892.8L1049.0 896.8L1055.0 900.9L1060.9 905.1L1066.9 909.3L1072.9 913.5L1078.9 917.9L1084.9 922.3L1090.9 926.7L1096.8 931.2L1102.8 935.8L1108.8 940.5L1114.8 945.2L1120.8 949.9L1126.8 954.8L1132.8 959.7L1138.7 964.6L1144.7 969.7L1150.7 974.8L1156.7 979.9L1162.7 985.2L1168.7 990.5L1174.6 995.9L1180.6 1001.3L1186.6 1006.8L1192.6 1012.4L1198.6 1018.1L1204.6 1023.8L1210.5 1029.6L1216.5 1035.4L1222.5 1041.4L1228.5 1047.4L1234.5 1053.5L1240.5 1059.6L1246.5 1065.9L1252.4 1072.2L1258.4 1078.5L1264.4 1085.0L1270.4 1091.5L1276.4 1098.1L1282.4 1104.8L1288.3 1111.5L1294.3 1118.3L1300.3 1125.2L1306.3 1132.2L1312.3 1139.2L1318.3 1146.3L1324.3 1153.5L1330.2 1160.8L1336.2 1168.1L1342.2 1175.6L1348.2 1183.1L1354.2 1190.6L1360.2 1198.3L1366.1 1206.0L1372.1 1213.8L1378.1 1221.6L1384.1 1229.6L1390.1 1237.6L1396.1 1245.7L1402.1 1253.9L1408.0 1262.1L1414.0 1270.4L1420.0 1278.8L1426.0 1287.3L1432.0 1295.8L1438.0 1304.4L1443.9 1313.1L1449.9 1321.9L1455.9 1330.7L1461.9 1339.6L1467.9 1348.6L1473.9 1357.6L1479.9 1366.7L1485.8 1375.9L1491.8 1385.2L1497.8 1394.5L1503.8 1403.9L1509.8 1413.4L1515.8 1422.9L1521.7 1432.6L1527.7 1442.2L1533.7 1452.0L1539.7 1461.8L1545.7 1471.7L1551.7 1481.7L1557.6 1491.7L1563.6 1501.8L1569.6 1511.9L1575.6 1522.1L1581.6 1532.4L1587.6 1542.8L1593.6 1553.2L1599.5 1563.7L1605.5 1574.2L1611.5 1584.8L1617.5 1595.5L1623.5 1606.2L1629.5 1617.0L1635.4 1627.9L1641.4 1638.8L1647.4 1649.7L1653.4 1660.8" fill="none" stroke="#1b6ede" stroke-width="10.8" stroke-linejoin="round"/>
<path d="M265.0 471.2L271.0 471.5L277.0 471.9L283.0 472.2L289.0 472.6L295.0 473.0L300.9 473.4L306.9 473.8L312.9 474.2L318.9 474.6L324.9 475.0L330.9 475.4L336.9 475.9L342.9 476.3L348.9 476.8L354.9 477.2L360.8 477.7L366.8 478.2L372.8 478.7L378.8 479.2L384.8 479.7L390.8 480.2L396.8 480.7L402.8 481.3L408.8 481.8L414.8 482.4L420.8 483.0L426.7 483.5L432.7 484.1L438.7 484.7L444.7 485.3L450.7 486.0L456.7 486.6L462.7 487.3L468.7 487.9L474.7 488.6L480.7 489.3L486.6 490.0L492.6 490.7L498.6 491.5L504.6 492.2L510.6 493.0L516.6 493.7L522.6 494.5L528.6 495.3L534.6 496.2L540.6 497.0L546.6 497.8L552.5 498.7L558.5 499.6L564.5 500.5L570.5 501.4L576.5 502.4L582.5 503.3L588.5 504.3L594.5 505.3L600.5 506.3L606.5 507.3L612.5 508.4L618.4 509.4L624.4 510.5L630.4 511.6L636.4 512.7L642.4 513.9L648.4 515.1L654.4 516.2L660.4 517.5L666.4 518.7L672.4 520.0L678.3 521.2L684.3 522.5L690.3 523.9L696.3 525.2L702.3 526.6L708.3 528.0L714.3 529.4L720.3 530.9L726.3 532.4L732.3 533.9L738.3 535.4L744.2 537.0L750.2 538.6L756.2 540.2L762.2 541.8L768.2 543.5L774.2 545.2L780.2 547.0L786.2 548.7L792.2 550.6L798.2 552.4L804.1 554.3L810.1 556.2L816.1 558.1L822.1 560.1L828.1 562.1L834.1 564.1L840.1 566.2L846.1 568.3L852.1 570.4L858.1 572.6L864.1 574.8L870.0 577.1L876.0 579.4L882.0 581.7L888.0 584.1L894.0 586.5L900.0 588.9L906.0 591.4L912.0 594.0L918.0 596.6L924.0 599.2L929.9 601.8L935.9 604.5L941.9 607.3L947.9 610.1L953.9 612.9L959.9 615.8L965.9 618.8L971.9 621.8L977.9 624.8L983.9 627.9L989.9 631.0L995.8 634.2L1001.8 637.4L1007.8 640.7L1013.8 644.0L1019.8 647.4L1025.8 650.9L1031.8 654.4L1037.8 657.9L1043.8 661.5L1049.8 665.2L1055.7 668.9L1061.7 672.6L1067.7 676.5L1073.7 680.3L1079.7 684.3L1085.7 688.3L1091.7 692.3L1097.7 696.4L1103.7 700.6L1109.7 704.9L1115.7 709.1L1121.6 713.5L1127.6 717.9L1133.6 722.4L1139.6 726.9L1145.6 731.6L1151.6 736.2L1157.6 741.0L1163.6 745.8L1169.6 750.6L1175.6 755.6L1181.5 760.5L1187.5 765.6L1193.5 770.7L1199.5 775.9L1205.5 781.2L1211.5 786.5L1217.5 791.9L1223.5 797.4L1229.5 803.0L1235.5 808.6L1241.5 814.2L1247.4 820.0L1253.4 825.8L1259.4 831.7L1265.4 837.7L1271.4 843.7L1277.4 849.8L1283.4 856.0L1289.4 862.2L1295.4 868.6L1301.4 875.0L1307.3 881.4L1313.3 888.0L1319.3 894.6L1325.3 901.3L1331.3 908.1L1337.3 914.9L1343.3 921.8L1349.3 928.8L1355.3 935.9L1361.3 943.0L1367.3 950.2L1373.2 957.5L1379.2 964.8L1385.2 972.3L1391.2 979.8L1397.2 987.4L1403.2 995.0L1409.2 1002.7L1415.2 1010.6L1421.2 1018.4L1427.2 1026.4L1433.2 1034.4L1439.1 1042.5L1445.1 1050.7L1451.1 1058.9L1457.1 1067.3L1463.1 1075.7L1469.1 1084.1L1475.1 1092.7L1481.1 1101.3L1487.1 1110.0L1493.1 1118.7L1499.0 1127.6L1505.0 1136.5L1511.0 1145.4L1517.0 1154.5L1523.0 1163.6L1529.0 1172.8L1535.0 1182.0L1541.0 1191.4L1547.0 1200.8L1553.0 1210.2L1559.0 1219.8L1564.9 1229.4L1570.9 1239.0L1576.9 1248.8L1582.9 1258.6L1588.9 1268.4L1594.9 1278.4L1600.9 1288.4L1606.9 1298.5L1612.9 1308.6L1618.9 1318.8L1624.8 1329.1L1630.8 1339.4L1636.8 1349.8L1642.8 1360.2L1648.8 1370.7L1654.8 1381.3" fill="none" stroke="#b077dd" stroke-width="10.8" stroke-linejoin="round"/>
<rect x="1150.5" y="84.9" width="31.2" height="31.2" fill="#fff" stroke="#505050" stroke-width="2.2"/><rect x="1150.5" y="84.9" width="31.2" height="17" fill="#505050"/>
<path d="M1165.8 160.3L1171.1 176.5L1188.1 176.5L1174.3 186.6L1179.6 202.8L1165.8 192.8L1152.0 202.8L1157.3 186.6L1143.5 176.5L1160.5 176.5Z" fill="#fff" stroke="#00f" stroke-width="2.5" stroke-linejoin="round"/><path d="M1165.8 160.3L1171.1 176.5L1188.1 176.5L1179.4 182.9L1152.2 182.9L1143.5 176.5L1160.5 176.5Z" fill="#00f" stroke="#00f" stroke-width="2.5" stroke-linejoin="round"/>
<text><tspan x="1257.7" y="122.8" font-size="66.0">Second group</tspan></text>
<text><tspan x="1259.7" y="205.1" font-size="66.0">Fifth group</tspan></text>
<path d="M276.2 1114.2H437.4" stroke="#b077dd" stroke-width="11.2" fill="none"/>
<path d="M276.2 1211.2H437.4" stroke="#1b6ede" stroke-width="11.2" fill="none"/>
<text><tspan x="446.8" y="1135.9" font-size="66.0" font-style="italic" textLength="58.9" lengthAdjust="spacingAndGlyphs">M</tspan><tspan x="502.2" y="1154.3" font-size="46.4" textLength="26.7" lengthAdjust="spacingAndGlyphs">S</tspan><tspan x="527.4" y="1136.3" font-size="67.6" textLength="31.7" lengthAdjust="spacingAndGlyphs">5</tspan><tspan x="570.2" y="1127.9" font-size="61.8" textLength="20.2" lengthAdjust="spacingAndGlyphs">(</tspan><tspan> </tspan><tspan x="626.2" y="1135.9" font-size="66.0">Model I</tspan><tspan x="841.2" y="1127.9" font-size="61.8" textLength="20.6" lengthAdjust="spacingAndGlyphs">)</tspan></text>
<text><tspan x="446.8" y="1232.9" font-size="66.0" font-style="italic" textLength="58.9" lengthAdjust="spacingAndGlyphs">M</tspan><tspan x="502.2" y="1251.3" font-size="46.4" textLength="26.7" lengthAdjust="spacingAndGlyphs">S</tspan><tspan x="528.3" y="1233.3" font-size="67.6" textLength="30.6" lengthAdjust="spacingAndGlyphs">4</tspan><tspan x="570.2" y="1224.9" font-size="61.8" textLength="20.2" lengthAdjust="spacingAndGlyphs">(</tspan><tspan> </tspan><tspan x="626.2" y="1232.9" font-size="66.0">Model I</tspan><tspan x="841.2" y="1224.9" font-size="61.8" textLength="20.6" lengthAdjust="spacingAndGlyphs">)</tspan></text>
<path d="M276.2 1415.5H333.9M383.8 1415.5H437.4" stroke="#b077dd" stroke-width="11.2" fill="none"/>
<path d="M276.2 1511.7H333.9M383.8 1511.7H437.4" stroke="#1b6ede" stroke-width="11.2" fill="none"/>
<text><tspan x="446.8" y="1437.5" font-size="66.0" font-style="italic" textLength="58.9" lengthAdjust="spacingAndGlyphs">M</tspan><tspan x="502.2" y="1455.9" font-size="46.4" textLength="26.7" lengthAdjust="spacingAndGlyphs">S</tspan><tspan x="527.4" y="1437.9" font-size="67.6" textLength="31.7" lengthAdjust="spacingAndGlyphs">5</tspan><tspan x="570.2" y="1429.5" font-size="61.8" textLength="20.2" lengthAdjust="spacingAndGlyphs">(</tspan><tspan> </tspan><tspan x="626.2" y="1437.5" font-size="66.0">Model II</tspan><tspan x="862.7" y="1429.5" font-size="61.8" textLength="20.6" lengthAdjust="spacingAndGlyphs">)</tspan></text>
<text><tspan x="446.8" y="1533.7" font-size="66.0" font-style="italic" textLength="58.9" lengthAdjust="spacingAndGlyphs">M</tspan><tspan x="502.2" y="1552.1" font-size="46.4" textLength="26.7" lengthAdjust="spacingAndGlyphs">S</tspan><tspan x="528.3" y="1534.1" font-size="67.6" textLength="30.6" lengthAdjust="spacingAndGlyphs">4</tspan><tspan x="570.2" y="1525.7" font-size="61.8" textLength="20.2" lengthAdjust="spacingAndGlyphs">(</tspan><tspan> </tspan><tspan x="626.2" y="1533.7" font-size="66.0">Model II</tspan><tspan x="862.7" y="1525.7" font-size="61.8" textLength="20.6" lengthAdjust="spacingAndGlyphs">)</tspan></text>
<text><tspan x="124.0" y="70.9" font-size="68.0" textLength="27.7" lengthAdjust="spacingAndGlyphs">1</tspan><tspan x="155.4" y="70.9" font-size="68.0" textLength="32.0" lengthAdjust="spacingAndGlyphs">0</tspan><tspan x="188.4" y="70.9" font-size="68.0" textLength="32.0" lengthAdjust="spacingAndGlyphs">0</tspan></text>
<text><tspan x="157.0" y="611.4" font-size="68.0" textLength="27.7" lengthAdjust="spacingAndGlyphs">1</tspan><tspan x="188.4" y="611.4" font-size="68.0" textLength="32.0" lengthAdjust="spacingAndGlyphs">0</tspan></text>
<text><tspan x="190.0" y="1151.9" font-size="68.0" textLength="27.7" lengthAdjust="spacingAndGlyphs">1</tspan></text>
<text><tspan x="122.4" y="1692.4" font-size="68.0" textLength="32.0" lengthAdjust="spacingAndGlyphs">0</tspan><tspan x="155.0" y="1692.4" font-size="68.0" textLength="16.5" lengthAdjust="spacingAndGlyphs">.</tspan><tspan x="190.0" y="1692.4" font-size="68.0" textLength="27.7" lengthAdjust="spacingAndGlyphs">1</tspan></text>
<text><tspan x="258.1" y="1774.4" font-size="68.0" textLength="27.7" lengthAdjust="spacingAndGlyphs">1</tspan></text>
<text><tspan x="931.7" y="1774.4" font-size="68.0" textLength="27.7" lengthAdjust="spacingAndGlyphs">1</tspan><tspan x="963.1" y="1774.4" font-size="68.0" textLength="32.0" lengthAdjust="spacingAndGlyphs">0</tspan></text>
<text><tspan x="1605.3" y="1774.4" font-size="68.0" textLength="27.7" lengthAdjust="spacingAndGlyphs">1</tspan><tspan x="1636.7" y="1774.4" font-size="68.0" textLength="32.0" lengthAdjust="spacingAndGlyphs">0</tspan><tspan x="1669.7" y="1774.4" font-size="68.0" textLength="32.0" lengthAdjust="spacingAndGlyphs">0</tspan></text>
<text><tspan x="880.4" y="1886.0" font-size="83.0" textLength="38.6" lengthAdjust="spacingAndGlyphs">R</tspan><tspan x="924.0" y="1891.8" font-size="102.0" textLength="34.3" lengthAdjust="spacingAndGlyphs">/</tspan><tspan x="962.0" y="1886.0" font-size="82.0" textLength="36.9" lengthAdjust="spacingAndGlyphs">k</tspan><tspan x="1000.9" y="1886.0" font-size="79.0" textLength="41.0" lengthAdjust="spacingAndGlyphs">m</tspan></text>
<g transform="translate(92,1043) rotate(-90)"><text><tspan x="0.0" y="0.0" font-size="83.0" textLength="40.3" lengthAdjust="spacingAndGlyphs">P</tspan><tspan x="39.9" y="0.0" font-size="82.0" textLength="41.1" lengthAdjust="spacingAndGlyphs">G</tspan><tspan x="81.5" y="0.0" font-size="83.0" textLength="38.6" lengthAdjust="spacingAndGlyphs">V</tspan><tspan x="135.1" y="-8.9" font-size="79.0" textLength="25.2" lengthAdjust="spacingAndGlyphs">(</tspan><tspan x="162.8" y="0.0" font-size="78.0" textLength="36.0" lengthAdjust="spacingAndGlyphs">c</tspan><tspan x="201.8" y="0.0" font-size="79.0" textLength="41.1" lengthAdjust="spacingAndGlyphs">m</tspan><tspan x="245.2" y="5.8" font-size="102.0" textLength="34.1" lengthAdjust="spacingAndGlyphs">/</tspan><tspan x="285.9" y="0.0" font-size="78.0" textLength="35.5" lengthAdjust="spacingAndGlyphs">s</tspan><tspan x="324.5" y="-8.9" font-size="79.0" textLength="24.8" lengthAdjust="spacingAndGlyphs">)</tspan></text></g>
</svg>
</body></html>
